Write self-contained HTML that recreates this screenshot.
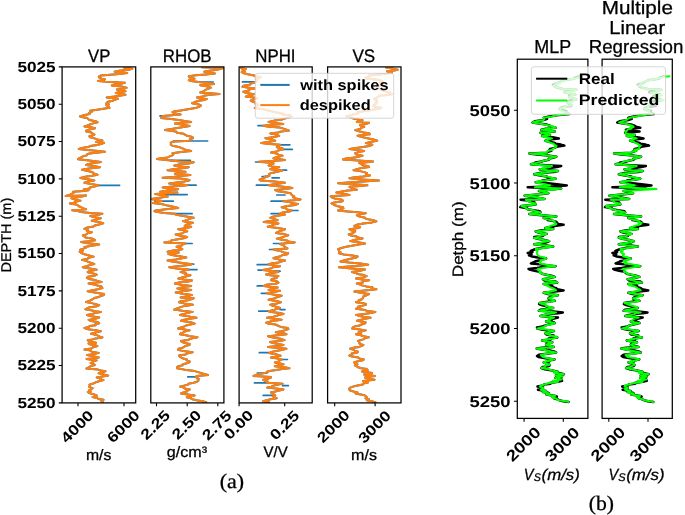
<!DOCTYPE html>
<html><head><meta charset="utf-8"><style>html,body{margin:0;padding:0;background:#fff;overflow:hidden}svg{display:block}</style></head>
<body><svg width="685" height="515" viewBox="0 0 685 515" style="text-rendering:geometricPrecision;will-change:transform">
<rect width="685" height="515" fill="#fff"/>
<clipPath id="c62"><rect x="62.1" y="66.9" width="73.6" height="336.0"/></clipPath>
<g clip-path="url(#c62)" fill="none" stroke-linejoin="round" stroke-linecap="round">
<path d="M123.8,67.4 L132.3,68.8 L128.6,69.8 L118.9,70.7 L114.7,71.7 L127.2,72.9 L116.5,74.2 L101.0,75.4 L98.8,76.6 L99.3,77.7 L102.0,78.6 L105.0,79.4 L103.5,80.2 L98.1,81.1 L110.8,81.9 L124.9,82.8 L120.6,83.7 L114.5,84.5 L111.8,85.4 L121.5,86.6 L126.6,87.7 L124.2,88.7 L116.9,89.6 L119.6,90.4 L125.5,91.3 L118.8,92.2 L115.8,93.0 L120.5,93.8 L125.5,94.7 L119.3,95.7 L114.3,96.6 L106.7,97.6 L118.1,98.7 L114.5,99.7 L112.9,100.7 L107.9,101.7 L106.7,102.7 L106.4,103.6 L109.0,104.4 L106.3,105.2 L107.8,106.1 L108.9,106.9 L109.5,107.8 L103.4,108.8 L97.2,109.7 L90.2,110.7 L91.8,111.8 L89.0,113.0 L89.6,114.1 L83.8,115.2 L79.9,116.4 L82.8,117.2 L87.3,118.1 L88.2,119.0 L89.4,120.0 L95.7,121.2 L97.5,122.4 L93.3,123.4 L90.0,124.5 L87.4,125.5 L84.5,126.5 L90.7,127.3 L95.1,128.2 L89.5,129.4 L86.1,130.6 L86.5,131.6 L91.4,132.6 L92.6,133.7 L94.3,134.7 L92.2,135.5 L89.4,136.3 L90.2,137.3 L94.6,138.4 L97.2,139.4 L102.4,140.4 L98.5,141.2 L95.9,142.0 L104.1,142.8 L101.5,143.9 L97.3,145.0 L90.2,146.1 L88.1,147.1 L81.9,148.0 L78.8,149.0 L87.8,149.9 L98.2,150.9 L104.9,151.8 L96.4,152.7 L89.4,153.5 L87.0,154.4 L86.7,155.4 L82.9,156.3 L81.7,157.3 L79.2,158.2 L78.0,159.2 L87.2,160.2 L93.3,161.1 L100.8,162.1 L93.9,163.0 L88.6,164.0 L86.1,164.9 L93.8,166.1 L100.0,167.3 L89.1,168.6 L82.0,169.8 L88.1,171.0 L92.6,172.2 L93.7,173.4 L97.5,174.7 L92.0,175.8 L85.3,176.8 L80.4,177.9 L88.1,179.2 L94.3,180.4 L87.6,181.6 L84.5,182.8 L90.9,184.1 L98.3,185.3 L95.4,186.3 L89.8,187.4 L89.8,188.4 L83.7,189.4 L88.6,190.2 L83.3,191.0 L73.1,191.8 L73.6,192.8 L71.6,193.9 L69.8,194.9 L65.7,195.9 L86.1,195.4 L81.6,196.4 L78.0,197.3 L71.4,198.3 L75.4,199.6 L80.4,200.8 L74.7,201.7 L75.5,202.5 L69.8,203.4 L76.0,204.4 L78.0,205.3 L78.8,206.3 L81.4,207.3 L82.7,208.3 L86.1,209.3 L72.2,210.2 L77.8,211.1 L81.2,212.1 L90.1,212.9 L102.4,213.7 L97.9,214.8 L90.2,215.9 L93.2,217.1 L100.8,218.3 L95.8,219.6 L91.8,220.8 L98.9,222.0 L103.2,223.2 L99.9,224.3 L94.9,225.4 L93.5,226.5 L86.6,227.7 L84.5,228.9 L87.8,230.0 L87.2,231.1 L91.8,232.2 L87.7,233.3 L86.3,234.4 L82.8,235.5 L84.3,236.5 L85.4,237.4 L91.7,238.4 L93.8,239.3 L95.1,240.3 L88.7,241.2 L81.2,242.0 L88.2,243.2 L99.2,244.4 L91.8,245.7 L84.5,246.9 L85.8,247.9 L82.6,248.9 L80.3,249.8 L82.8,250.8 L79.6,251.8 L81.3,253.0 L84.5,254.2 L89.1,255.4 L93.5,256.7 L88.0,257.8 L87.6,258.8 L82.0,259.9 L86.0,260.9 L88.3,261.9 L91.2,263.0 L94.3,264.0 L89.7,265.1 L86.4,266.2 L82.8,267.3 L89.8,268.5 L96.7,269.7 L89.8,270.9 L87.7,272.2 L93.3,273.4 L96.7,274.6 L94.7,275.7 L87.8,276.8 L86.9,277.9 L88.8,278.9 L95.3,279.9 L97.2,281.0 L101.6,282.0 L93.3,282.8 L88.6,283.6 L94.0,284.6 L97.5,285.5 L101.5,286.4 L100.0,287.2 L102.4,288.1 L98.0,289.2 L92.8,290.2 L87.7,291.3 L93.4,292.2 L99.1,293.2 L104.1,294.1 L103.7,295.1 L101.0,296.0 L98.7,296.9 L94.3,297.9 L93.2,298.9 L91.5,299.9 L89.4,301.0 L86.1,302.0 L91.7,303.1 L95.8,304.1 L99.2,305.2 L97.0,306.2 L90.0,307.2 L87.1,308.3 L85.3,309.3 L91.2,310.2 L95.2,311.2 L100.8,312.1 L94.8,313.1 L92.3,314.0 L86.9,315.0 L91.6,316.2 L99.2,317.5 L95.2,318.7 L88.6,319.9 L91.2,321.0 L97.7,322.1 L99.2,323.2 L95.3,324.2 L95.6,325.2 L89.5,326.1 L88.9,327.1 L84.5,328.1 L88.1,329.2 L95.4,330.2 L100.8,331.3 L95.2,332.6 L91.0,333.8 L95.7,334.7 L97.8,335.6 L99.9,336.6 L102.4,337.5 L95.6,338.4 L92.7,339.4 L87.7,340.3 L90.5,341.5 L96.0,342.7 L88.5,343.4 L89.5,344.3 L95.4,345.2 L97.4,346.1 L93.3,347.2 L91.3,348.4 L84.5,349.5 L90.9,350.6 L91.7,351.8 L98.7,352.9 L95.2,353.9 L87.2,355.0 L93.1,356.2 L98.7,357.4 L95.1,358.2 L86.5,359.0 L96.7,360.4 L93.7,361.3 L92.5,362.2 L90.6,363.1 L93.6,364.1 L94.7,365.1 L90.7,366.2 L88.8,367.4 L86.5,368.5 L98.0,369.6 L100.9,370.5 L105.5,371.3 L101.3,372.3 L98.7,373.3 L103.7,374.5 L108.2,375.6 L102.5,376.5 L96.7,377.4 L100.9,378.3 L100.0,379.2 L103.5,380.1 L98.8,381.2 L95.6,382.4 L93.3,383.5 L89.5,384.6 L89.7,385.8 L89.2,386.9 L92.6,388.2 L91.2,389.2 L89.2,390.1 L90.6,391.1 L87.8,392.0 L89.2,393.0 L93.2,394.1 L96.4,395.3 L96.7,396.4 L92.6,397.1 L96.8,398.0 L98.4,398.9 L103.5,399.8 L101.4,401.0 L102.8,402.2" stroke="#1f77b4" stroke-width="2.0"/>
<path d="M98.3,185.3 L119.6,185.3 " stroke="#1f77b4" stroke-width="1.7"/>
<path d="M123.8,67.4 L132.3,68.8 L128.6,69.8 L118.9,70.7 L114.7,71.7 L127.2,72.9 L116.5,74.2 L101.0,75.4 L98.8,76.6 L99.3,77.7 L102.0,78.6 L105.0,79.4 L103.5,80.2 L98.1,81.1 L110.8,81.9 L124.9,82.8 L120.6,83.7 L114.5,84.5 L111.8,85.4 L121.5,86.6 L126.6,87.7 L124.2,88.7 L116.9,89.6 L119.6,90.4 L125.5,91.3 L118.8,92.2 L115.8,93.0 L120.5,93.8 L125.5,94.7 L119.3,95.7 L114.3,96.6 L106.7,97.6 L118.1,98.7 L114.5,99.7 L112.9,100.7 L107.9,101.7 L106.7,102.7 L106.4,103.6 L109.0,104.4 L106.3,105.2 L107.8,106.1 L108.9,106.9 L109.5,107.8 L103.4,108.8 L97.2,109.7 L90.2,110.7 L91.8,111.8 L89.0,113.0 L89.6,114.1 L83.8,115.2 L79.9,116.4 L82.8,117.2 L87.3,118.1 L88.2,119.0 L89.4,120.0 L95.7,121.2 L97.5,122.4 L93.3,123.4 L90.0,124.5 L87.4,125.5 L84.5,126.5 L90.7,127.3 L95.1,128.2 L89.5,129.4 L86.1,130.6 L86.5,131.6 L91.4,132.6 L92.6,133.7 L94.3,134.7 L92.2,135.5 L89.4,136.3 L90.2,137.3 L94.6,138.4 L97.2,139.4 L102.4,140.4 L98.5,141.2 L95.9,142.0 L104.1,142.8 L101.5,143.9 L97.3,145.0 L90.2,146.1 L88.1,147.1 L81.9,148.0 L78.8,149.0 L87.8,149.9 L98.2,150.9 L104.9,151.8 L96.4,152.7 L89.4,153.5 L87.0,154.4 L86.7,155.4 L82.9,156.3 L81.7,157.3 L79.2,158.2 L78.0,159.2 L87.2,160.2 L93.3,161.1 L100.8,162.1 L93.9,163.0 L88.6,164.0 L86.1,164.9 L93.8,166.1 L100.0,167.3 L89.1,168.6 L82.0,169.8 L88.1,171.0 L92.6,172.2 L93.7,173.4 L97.5,174.7 L92.0,175.8 L85.3,176.8 L80.4,177.9 L88.1,179.2 L94.3,180.4 L87.6,181.6 L84.5,182.8 L90.9,184.1 L98.3,185.3 L95.4,186.3 L89.8,187.4 L89.8,188.4 L83.7,189.4 L88.6,190.2 L83.3,191.0 L73.1,191.8 L73.6,192.8 L71.6,193.9 L69.8,194.9 L65.7,195.9 L86.1,195.4 L81.6,196.4 L78.0,197.3 L71.4,198.3 L75.4,199.6 L80.4,200.8 L74.7,201.7 L75.5,202.5 L69.8,203.4 L76.0,204.4 L78.0,205.3 L78.8,206.3 L81.4,207.3 L82.7,208.3 L86.1,209.3 L72.2,210.2 L77.8,211.1 L81.2,212.1 L90.1,212.9 L102.4,213.7 L97.9,214.8 L90.2,215.9 L93.2,217.1 L100.8,218.3 L95.8,219.6 L91.8,220.8 L98.9,222.0 L103.2,223.2 L99.9,224.3 L94.9,225.4 L93.5,226.5 L86.6,227.7 L84.5,228.9 L87.8,230.0 L87.2,231.1 L91.8,232.2 L87.7,233.3 L86.3,234.4 L82.8,235.5 L84.3,236.5 L85.4,237.4 L91.7,238.4 L93.8,239.3 L95.1,240.3 L88.7,241.2 L81.2,242.0 L88.2,243.2 L99.2,244.4 L91.8,245.7 L84.5,246.9 L85.8,247.9 L82.6,248.9 L80.3,249.8 L82.8,250.8 L79.6,251.8 L81.3,253.0 L84.5,254.2 L89.1,255.4 L93.5,256.7 L88.0,257.8 L87.6,258.8 L82.0,259.9 L86.0,260.9 L88.3,261.9 L91.2,263.0 L94.3,264.0 L89.7,265.1 L86.4,266.2 L82.8,267.3 L89.8,268.5 L96.7,269.7 L89.8,270.9 L87.7,272.2 L93.3,273.4 L96.7,274.6 L94.7,275.7 L87.8,276.8 L86.9,277.9 L88.8,278.9 L95.3,279.9 L97.2,281.0 L101.6,282.0 L93.3,282.8 L88.6,283.6 L94.0,284.6 L97.5,285.5 L101.5,286.4 L100.0,287.2 L102.4,288.1 L98.0,289.2 L92.8,290.2 L87.7,291.3 L93.4,292.2 L99.1,293.2 L104.1,294.1 L103.7,295.1 L101.0,296.0 L98.7,296.9 L94.3,297.9 L93.2,298.9 L91.5,299.9 L89.4,301.0 L86.1,302.0 L91.7,303.1 L95.8,304.1 L99.2,305.2 L97.0,306.2 L90.0,307.2 L87.1,308.3 L85.3,309.3 L91.2,310.2 L95.2,311.2 L100.8,312.1 L94.8,313.1 L92.3,314.0 L86.9,315.0 L91.6,316.2 L99.2,317.5 L95.2,318.7 L88.6,319.9 L91.2,321.0 L97.7,322.1 L99.2,323.2 L95.3,324.2 L95.6,325.2 L89.5,326.1 L88.9,327.1 L84.5,328.1 L88.1,329.2 L95.4,330.2 L100.8,331.3 L95.2,332.6 L91.0,333.8 L95.7,334.7 L97.8,335.6 L99.9,336.6 L102.4,337.5 L95.6,338.4 L92.7,339.4 L87.7,340.3 L90.5,341.5 L96.0,342.7 L88.5,343.4 L89.5,344.3 L95.4,345.2 L97.4,346.1 L93.3,347.2 L91.3,348.4 L84.5,349.5 L90.9,350.6 L91.7,351.8 L98.7,352.9 L95.2,353.9 L87.2,355.0 L93.1,356.2 L98.7,357.4 L95.1,358.2 L86.5,359.0 L96.7,360.4 L93.7,361.3 L92.5,362.2 L90.6,363.1 L93.6,364.1 L94.7,365.1 L90.7,366.2 L88.8,367.4 L86.5,368.5 L98.0,369.6 L100.9,370.5 L105.5,371.3 L101.3,372.3 L98.7,373.3 L103.7,374.5 L108.2,375.6 L102.5,376.5 L96.7,377.4 L100.9,378.3 L100.0,379.2 L103.5,380.1 L98.8,381.2 L95.6,382.4 L93.3,383.5 L89.5,384.6 L89.7,385.8 L89.2,386.9 L92.6,388.2 L91.2,389.2 L89.2,390.1 L90.6,391.1 L87.8,392.0 L89.2,393.0 L93.2,394.1 L96.4,395.3 L96.7,396.4 L92.6,397.1 L96.8,398.0 L98.4,398.9 L103.5,399.8 L101.4,401.0 L102.8,402.2" stroke="#ff7f0e" stroke-width="2.0"/>
</g>
<clipPath id="c150"><rect x="150.8" y="66.9" width="73.1" height="336.0"/></clipPath>
<g clip-path="url(#c150)" fill="none" stroke-linejoin="round" stroke-linecap="round">
<path d="M201.9,67.3 L223.1,68.1 L220.0,69.0 L215.7,69.9 L207.4,70.9 L204.3,71.8 L208.6,72.7 L214.9,73.5 L206.1,74.4 L195.8,75.3 L188.8,76.2 L189.6,77.5 L194.5,78.7 L192.9,79.5 L188.8,80.3 L192.9,81.2 L198.6,82.0 L207.6,83.0 L214.1,83.9 L200.2,85.2 L207.7,86.5 L210.8,87.7 L207.7,88.9 L205.1,90.1 L203.9,91.3 L200.2,92.5 L219.5,93.9 L210.0,94.7 L205.0,95.5 L202.6,96.5 L197.0,97.5 L200.0,98.3 L206.7,99.1 L204.3,99.9 L198.6,100.7 L195.3,102.0 L192.1,103.2 L198.8,104.4 L201.0,105.6 L199.0,106.8 L195.3,108.1 L187.9,109.3 L180.6,110.5 L174.7,111.3 L172.5,112.1 L174.3,113.3 L180.6,114.6 L162.7,115.9 L163.4,116.9 L161.1,117.9 L171.2,119.1 L180.6,120.3 L184.4,121.1 L191.2,121.9 L181.9,122.8 L174.9,123.6 L182.9,124.8 L189.6,126.0 L183.4,127.0 L177.5,128.1 L171.5,129.1 L165.1,130.1 L172.6,130.9 L176.6,131.7 L176.9,132.7 L183.7,133.8 L185.3,134.8 L187.2,135.8 L192.4,137.0 L192.9,138.2 L189.8,139.4 L190.0,140.7 L174.1,141.5 L170.7,142.6 L170.9,143.7 L170.8,144.8 L172.6,145.7 L177.6,146.7 L180.6,147.6 L183.1,148.7 L185.3,149.8 L191.2,150.9 L180.7,152.1 L172.5,153.3 L173.5,154.3 L172.3,155.4 L169.7,156.4 L167.6,157.4 L161.3,158.2 L157.0,159.1 L170.8,160.4 L180.4,161.4 L193.7,162.3 L188.8,163.4 L178.8,164.5 L174.1,165.6 L180.3,166.4 L188.8,167.2 L182.1,168.2 L173.0,169.2 L167.6,170.2 L176.3,171.0 L185.5,171.8 L178.0,172.8 L174.9,173.7 L190.4,175.0 L180.4,175.9 L173.3,176.9 L162.7,177.8 L180.6,178.6 L186.9,179.4 L189.6,180.3 L184.4,181.4 L176.8,182.4 L169.2,183.5 L180.6,184.3 L187.2,185.2 L172.9,186.4 L162.7,187.6 L168.8,188.4 L178.2,189.2 L168.1,190.4 L160.2,191.7 L177.4,192.5 L168.0,193.3 L155.3,194.1 L163.1,195.3 L167.6,196.6 L159.8,197.8 L151.3,199.0 L156.0,200.0 L162.0,201.0 L156.8,202.1 L152.9,203.1 L162.4,204.3 L167.6,205.6 L173.4,206.8 L178.2,208.0 L165.7,209.2 L156.2,210.5 L154.6,211.3 L157.8,212.1 L164.3,212.9 L175.0,213.7 L175.5,214.6 L180.6,215.4 L186.6,216.6 L193.7,217.8 L189.1,218.9 L187.5,220.0 L183.1,221.1 L185.6,221.9 L192.9,222.7 L189.4,223.8 L185.8,224.9 L184.7,226.0 L191.2,226.8 L186.8,228.0 L178.2,229.2 L184.1,230.2 L187.2,231.3 L183.7,232.4 L182.0,233.4 L175.7,234.5 L180.4,235.8 L187.2,237.0 L183.6,238.2 L176.6,239.4 L171.2,240.4 L170.7,241.4 L164.3,242.4 L185.5,243.5 L182.4,244.6 L181.6,245.7 L176.6,246.8 L180.0,248.0 L182.3,249.2 L173.2,250.4 L167.6,251.7 L179.0,252.5 L175.2,253.3 L168.4,254.1 L173.2,255.2 L179.9,256.3 L186.3,257.4 L180.8,258.5 L175.9,259.5 L167.6,260.6 L172.2,261.5 L179.1,262.4 L184.3,263.3 L192.1,264.2 L186.8,265.2 L177.7,266.2 L169.2,267.2 L176.6,268.4 L188.8,269.6 L183.6,270.9 L180.6,272.1 L185.8,273.2 L184.8,274.2 L190.4,275.3 L186.6,276.4 L182.1,277.5 L178.2,278.6 L183.8,279.6 L192.1,280.5 L188.2,281.5 L178.9,282.5 L174.9,283.5 L181.1,284.7 L191.2,285.9 L182.7,287.1 L177.4,288.4 L185.0,289.2 L191.2,290.0 L182.3,291.2 L175.7,292.5 L182.9,293.7 L192.1,294.9 L188.3,296.1 L180.6,297.4 L193.7,298.2 L191.0,299.2 L188.0,300.2 L181.0,301.2 L179.0,302.2 L184.0,303.4 L192.9,304.7 L184.6,305.9 L180.6,307.1 L177.1,308.4 L174.1,309.6 L182.5,310.8 L192.6,311.9 L188.3,312.9 L184.0,313.9 L180.0,314.9 L186.5,315.9 L190.4,316.8 L196.5,317.8 L190.1,318.8 L184.1,319.7 L181.0,320.7 L187.2,321.7 L192.0,322.6 L194.6,323.6 L190.4,324.6 L186.0,325.5 L184.3,326.5 L181.0,327.4 L178.1,328.4 L184.6,329.4 L189.7,330.4 L185.4,331.4 L183.4,332.4 L181.0,333.3 L180.0,334.3 L186.1,335.3 L190.2,336.2 L197.5,337.2 L193.1,338.1 L189.9,339.1 L187.6,340.1 L181.0,341.0 L182.1,342.0 L185.1,343.0 L189.7,344.0 L189.5,345.0 L185.6,345.9 L184.1,346.9 L182.2,347.9 L178.5,348.8 L178.1,349.8 L183.4,351.1 L192.6,352.3 L186.9,353.4 L185.7,354.5 L179.0,355.6 L179.8,356.6 L181.4,357.6 L183.3,358.5 L186.8,359.5 L186.6,360.4 L189.7,361.4 L189.5,362.4 L186.8,363.3 L182.9,364.3 L182.5,365.3 L178.6,366.2 L177.1,367.2 L177.1,368.2 L182.5,369.2 L186.4,370.1 L194.6,371.1 L198.2,372.1 L201.6,373.1 L203.8,374.0 L208.1,375.0 L196.5,376.0 L195.8,377.0 L197.0,377.9 L198.7,378.9 L197.7,379.8 L198.4,380.8 L197.0,381.8 L193.6,382.7 L188.4,383.7 L187.9,384.7 L184.0,385.6 L180.0,386.6 L183.9,387.6 L184.9,388.5 L189.7,389.5 L186.6,390.5 L187.4,391.4 L183.5,392.4 L181.0,393.4 L187.6,394.4 L194.6,395.4 L189.9,396.4 L186.8,397.3 L190.9,398.3 L192.4,399.2 L196.5,400.2 L202.7,401.2 L206.2,402.2" stroke="#1f77b4" stroke-width="2.0"/>
<path d="M198.6,82.0 L213.3,82.0 M160.0,115.9 L163.0,115.9 M173.3,141.0 L207.6,141.0 M170.8,160.4 L190.4,160.4 M187.0,185.2 L196.1,185.2 M160.0,194.6 L187.2,194.6 M155.0,201.2 L173.3,201.2 M154.5,210.5 L157.0,210.5 M175.0,213.7 L192.1,213.7 M185.5,243.5 L192.1,243.5 M192.1,264.2 L193.7,264.2 M188.8,269.6 L197.0,269.6 M187.8,376.9 L196.0,376.9 " stroke="#1f77b4" stroke-width="1.7"/>
<path d="M201.9,67.3 L223.1,68.1 L220.0,69.0 L215.7,69.9 L207.4,70.9 L204.3,71.8 L208.6,72.7 L214.9,73.5 L206.1,74.4 L195.8,75.3 L188.8,76.2 L189.6,77.5 L194.5,78.7 L192.9,79.5 L188.8,80.3 L192.9,81.2 L198.6,82.0 L207.6,83.0 L214.1,83.9 L200.2,85.2 L207.7,86.5 L210.8,87.7 L207.7,88.9 L205.1,90.1 L203.9,91.3 L200.2,92.5 L219.5,93.9 L210.0,94.7 L205.0,95.5 L202.6,96.5 L197.0,97.5 L200.0,98.3 L206.7,99.1 L204.3,99.9 L198.6,100.7 L195.3,102.0 L192.1,103.2 L198.8,104.4 L201.0,105.6 L199.0,106.8 L195.3,108.1 L187.9,109.3 L180.6,110.5 L174.7,111.3 L172.5,112.1 L174.3,113.3 L180.6,114.6 L162.7,115.9 L163.4,116.9 L161.1,117.9 L171.2,119.1 L180.6,120.3 L184.4,121.1 L191.2,121.9 L181.9,122.8 L174.9,123.6 L182.9,124.8 L189.6,126.0 L183.4,127.0 L177.5,128.1 L171.5,129.1 L165.1,130.1 L172.6,130.9 L176.6,131.7 L176.9,132.7 L183.7,133.8 L185.3,134.8 L187.2,135.8 L192.4,137.0 L192.9,138.2 L189.8,139.4 L190.0,140.7 L174.1,141.5 L170.7,142.6 L170.9,143.7 L170.8,144.8 L172.6,145.7 L177.6,146.7 L180.6,147.6 L183.1,148.7 L185.3,149.8 L191.2,150.9 L180.7,152.1 L172.5,153.3 L173.5,154.3 L172.3,155.4 L169.7,156.4 L167.6,157.4 L161.3,158.2 L157.0,159.1 L170.8,160.4 L180.4,161.4 L193.7,162.3 L188.8,163.4 L178.8,164.5 L174.1,165.6 L180.3,166.4 L188.8,167.2 L182.1,168.2 L173.0,169.2 L167.6,170.2 L176.3,171.0 L185.5,171.8 L178.0,172.8 L174.9,173.7 L190.4,175.0 L180.4,175.9 L173.3,176.9 L162.7,177.8 L180.6,178.6 L186.9,179.4 L189.6,180.3 L184.4,181.4 L176.8,182.4 L169.2,183.5 L180.6,184.3 L187.2,185.2 L172.9,186.4 L162.7,187.6 L168.8,188.4 L178.2,189.2 L168.1,190.4 L160.2,191.7 L177.4,192.5 L168.0,193.3 L155.3,194.1 L163.1,195.3 L167.6,196.6 L159.8,197.8 L151.3,199.0 L156.0,200.0 L162.0,201.0 L156.8,202.1 L152.9,203.1 L162.4,204.3 L167.6,205.6 L173.4,206.8 L178.2,208.0 L165.7,209.2 L156.2,210.5 L154.6,211.3 L157.8,212.1 L164.3,212.9 L175.0,213.7 L175.5,214.6 L180.6,215.4 L186.6,216.6 L193.7,217.8 L189.1,218.9 L187.5,220.0 L183.1,221.1 L185.6,221.9 L192.9,222.7 L189.4,223.8 L185.8,224.9 L184.7,226.0 L191.2,226.8 L186.8,228.0 L178.2,229.2 L184.1,230.2 L187.2,231.3 L183.7,232.4 L182.0,233.4 L175.7,234.5 L180.4,235.8 L187.2,237.0 L183.6,238.2 L176.6,239.4 L171.2,240.4 L170.7,241.4 L164.3,242.4 L185.5,243.5 L182.4,244.6 L181.6,245.7 L176.6,246.8 L180.0,248.0 L182.3,249.2 L173.2,250.4 L167.6,251.7 L179.0,252.5 L175.2,253.3 L168.4,254.1 L173.2,255.2 L179.9,256.3 L186.3,257.4 L180.8,258.5 L175.9,259.5 L167.6,260.6 L172.2,261.5 L179.1,262.4 L184.3,263.3 L192.1,264.2 L186.8,265.2 L177.7,266.2 L169.2,267.2 L176.6,268.4 L188.8,269.6 L183.6,270.9 L180.6,272.1 L185.8,273.2 L184.8,274.2 L190.4,275.3 L186.6,276.4 L182.1,277.5 L178.2,278.6 L183.8,279.6 L192.1,280.5 L188.2,281.5 L178.9,282.5 L174.9,283.5 L181.1,284.7 L191.2,285.9 L182.7,287.1 L177.4,288.4 L185.0,289.2 L191.2,290.0 L182.3,291.2 L175.7,292.5 L182.9,293.7 L192.1,294.9 L188.3,296.1 L180.6,297.4 L193.7,298.2 L191.0,299.2 L188.0,300.2 L181.0,301.2 L179.0,302.2 L184.0,303.4 L192.9,304.7 L184.6,305.9 L180.6,307.1 L177.1,308.4 L174.1,309.6 L182.5,310.8 L192.6,311.9 L188.3,312.9 L184.0,313.9 L180.0,314.9 L186.5,315.9 L190.4,316.8 L196.5,317.8 L190.1,318.8 L184.1,319.7 L181.0,320.7 L187.2,321.7 L192.0,322.6 L194.6,323.6 L190.4,324.6 L186.0,325.5 L184.3,326.5 L181.0,327.4 L178.1,328.4 L184.6,329.4 L189.7,330.4 L185.4,331.4 L183.4,332.4 L181.0,333.3 L180.0,334.3 L186.1,335.3 L190.2,336.2 L197.5,337.2 L193.1,338.1 L189.9,339.1 L187.6,340.1 L181.0,341.0 L182.1,342.0 L185.1,343.0 L189.7,344.0 L189.5,345.0 L185.6,345.9 L184.1,346.9 L182.2,347.9 L178.5,348.8 L178.1,349.8 L183.4,351.1 L192.6,352.3 L186.9,353.4 L185.7,354.5 L179.0,355.6 L179.8,356.6 L181.4,357.6 L183.3,358.5 L186.8,359.5 L186.6,360.4 L189.7,361.4 L189.5,362.4 L186.8,363.3 L182.9,364.3 L182.5,365.3 L178.6,366.2 L177.1,367.2 L177.1,368.2 L182.5,369.2 L186.4,370.1 L194.6,371.1 L198.2,372.1 L201.6,373.1 L203.8,374.0 L208.1,375.0 L196.5,376.0 L195.8,377.0 L197.0,377.9 L198.7,378.9 L197.7,379.8 L198.4,380.8 L197.0,381.8 L193.6,382.7 L188.4,383.7 L187.9,384.7 L184.0,385.6 L180.0,386.6 L183.9,387.6 L184.9,388.5 L189.7,389.5 L186.6,390.5 L187.4,391.4 L183.5,392.4 L181.0,393.4 L187.6,394.4 L194.6,395.4 L189.9,396.4 L186.8,397.3 L190.9,398.3 L192.4,399.2 L196.5,400.2 L202.7,401.2 L206.2,402.2" stroke="#ff7f0e" stroke-width="2.0"/>
</g>
<clipPath id="c239"><rect x="239.1" y="66.9" width="73.1" height="336.0"/></clipPath>
<g clip-path="url(#c239)" fill="none" stroke-linejoin="round" stroke-linecap="round">
<path d="M240.9,68.1 L245.8,68.9 L242.5,70.0 L244.7,71.1 L241.7,72.2 L244.0,73.3 L247.9,74.3 L254.0,75.4 L255.1,76.2 L260.5,77.1 L258.7,78.2 L255.9,79.2 L257.2,80.3 L256.8,81.5 L254.0,82.8 L249.9,83.8 L249.9,84.8 L243.6,85.8 L242.5,86.8 L249.0,87.7 L254.8,88.5 L248.6,89.6 L249.0,90.6 L243.3,91.7 L246.7,93.0 L254.0,94.2 L248.6,95.4 L245.8,96.6 L253.2,97.4 L257.2,98.3 L253.8,99.5 L250.7,100.7 L252.9,101.8 L256.4,102.9 L255.6,104.0 L257.7,105.0 L256.5,106.0 L256.3,107.1 L254.8,108.1 L263.0,109.3 L268.6,110.5 L273.4,111.8 L278.4,113.0 L284.1,113.9 L282.9,114.8 L290.5,115.6 L291.5,116.5 L288.5,117.5 L284.6,118.5 L281.7,119.5 L273.7,120.7 L268.6,121.9 L274.6,123.0 L283.3,124.0 L272.2,124.8 L262.9,125.7 L269.4,126.7 L280.1,127.6 L283.5,128.6 L286.5,129.6 L289.0,130.6 L281.3,131.5 L278.0,132.5 L270.3,133.4 L276.3,134.6 L279.2,135.8 L274.6,137.0 L265.4,138.2 L271.6,139.4 L275.2,140.7 L268.0,141.9 L261.3,143.1 L269.6,143.9 L280.1,144.8 L278.8,146.0 L276.8,147.2 L282.3,148.2 L283.3,149.3 L278.0,150.4 L276.9,151.4 L271.1,152.5 L276.6,153.6 L278.6,154.7 L282.5,155.8 L277.2,157.0 L273.5,158.2 L278.1,159.1 L285.0,159.9 L272.0,160.9 L258.8,161.8 L273.5,163.0 L273.2,163.9 L270.1,164.7 L268.6,165.6 L271.8,166.4 L279.2,167.2 L272.8,168.2 L270.3,169.2 L282.5,170.5 L277.2,171.7 L271.9,172.9 L269.2,173.9 L269.0,174.9 L269.4,175.8 L264.7,176.8 L264.6,177.8 L262.3,178.7 L259.6,179.7 L260.5,180.6 L274.6,181.6 L285.0,182.7 L275.4,183.9 L268.6,185.2 L280.9,186.5 L288.2,187.3 L292.3,188.1 L285.6,189.1 L275.2,190.1 L278.0,191.2 L284.9,192.2 L290.7,193.3 L291.0,194.3 L292.5,195.4 L294.2,196.4 L293.1,197.4 L295.9,198.4 L300.5,199.5 L294.2,200.3 L283.3,201.2 L290.6,202.1 L290.8,203.0 L298.0,203.9 L294.9,205.0 L287.5,206.1 L281.7,207.2 L286.0,208.3 L286.7,209.4 L291.5,210.5 L289.3,211.6 L282.4,212.6 L280.1,213.7 L285.0,214.5 L279.1,215.6 L272.8,216.7 L270.3,217.8 L274.1,219.0 L277.6,220.2 L270.0,221.1 L263.7,221.9 L273.2,222.7 L278.4,223.5 L273.6,224.6 L271.4,225.7 L267.8,226.8 L277.9,228.0 L285.0,229.2 L283.5,230.1 L279.5,231.1 L278.0,232.0 L276.0,232.9 L283.9,234.1 L288.2,235.3 L284.8,236.4 L281.6,237.5 L276.8,238.6 L280.8,239.6 L287.1,240.5 L288.3,241.4 L294.7,242.4 L285.6,243.2 L280.0,244.0 L283.1,245.1 L284.3,246.2 L285.6,247.3 L287.4,248.4 L273.5,249.5 L277.5,250.4 L281.3,251.4 L283.8,252.4 L288.2,253.3 L287.2,254.3 L282.0,255.3 L280.7,256.2 L276.2,257.2 L273.5,258.2 L278.5,259.4 L285.0,260.6 L281.1,261.5 L278.9,262.4 L272.6,263.3 L268.6,264.2 L273.1,265.2 L280.1,266.3 L273.3,267.2 L271.5,268.2 L267.2,269.2 L262.9,270.1 L271.4,271.1 L278.4,272.0 L270.3,273.2 L266.2,274.5 L270.2,275.2 L278.4,276.0 L275.7,277.1 L276.6,278.1 L271.8,279.1 L271.1,280.2 L277.2,281.4 L278.4,282.7 L275.4,283.8 L266.1,284.8 L263.7,285.9 L269.7,286.8 L277.6,287.6 L272.8,288.8 L268.6,290.0 L280.1,290.8 L273.8,292.1 L267.0,293.3 L273.3,294.5 L281.7,295.7 L278.5,296.7 L275.5,297.8 L273.1,298.8 L268.6,299.8 L276.1,301.0 L280.9,302.2 L277.3,303.4 L270.3,304.7 L272.7,305.8 L276.8,306.9 L280.0,308.0 L275.8,309.1 L273.9,310.1 L268.6,311.2 L271.2,312.1 L280.0,313.0 L283.5,313.9 L277.9,314.9 L277.2,315.9 L273.3,316.8 L267.0,317.8 L273.8,318.8 L281.6,319.7 L274.5,320.7 L270.1,321.6 L266.1,322.6 L268.1,323.6 L275.5,324.5 L277.7,325.5 L279.5,326.4 L282.5,327.2 L287.8,328.1 L288.4,329.0 L285.6,330.1 L281.3,331.2 L275.8,332.3 L283.6,333.3 L286.4,334.3 L277.8,335.2 L268.0,336.2 L271.9,337.2 L276.0,338.1 L281.8,339.1 L284.5,340.1 L279.5,341.1 L270.0,342.0 L273.3,343.0 L278.1,343.9 L283.5,344.9 L277.7,345.9 L268.0,346.9 L279.4,347.9 L286.4,348.8 L281.5,349.9 L275.8,351.0 L271.6,352.0 L269.0,353.1 L276.6,354.4 L280.6,355.6 L277.6,356.6 L270.9,357.5 L277.7,358.5 L281.6,359.5 L279.3,360.5 L279.2,361.4 L274.8,362.4 L280.1,363.4 L283.5,364.3 L279.2,365.3 L274.8,366.3 L284.6,367.2 L289.4,368.2 L282.2,369.1 L276.2,369.9 L271.1,370.8 L267.0,371.7 L266.0,372.8 L259.5,373.9 L256.3,374.9 L253.5,376.0 L270.9,376.9 L270.7,377.9 L267.7,378.8 L263.2,379.8 L265.0,380.8 L268.0,381.8 L267.0,382.8 L282.6,383.7 L276.9,384.7 L274.0,385.6 L271.3,386.6 L267.0,387.6 L276.1,388.6 L283.5,389.5 L279.2,390.5 L275.3,391.5 L270.9,392.5 L272.4,393.5 L273.7,394.4 L275.2,395.4 L273.2,396.4 L273.7,397.3 L276.7,398.3 L270.5,399.3 L266.7,400.2 L263.2,401.2 L269.0,402.2" stroke="#1f77b4" stroke-width="2.0"/>
<path d="M242.5,81.9 L254.0,81.9 M258.0,125.7 L262.9,125.7 M280.1,144.8 L289.9,144.8 M283.3,149.3 L292.3,149.3 M255.6,162.0 L258.8,162.0 M282.5,170.2 L286.6,170.2 M262.1,176.7 L268.0,176.7 M272.0,177.8 L279.2,177.8 M256.4,185.2 L268.6,185.2 M276.8,195.0 L285.0,195.0 M271.1,201.2 L283.3,201.2 M291.5,210.5 L298.0,210.5 M271.1,213.7 L280.1,213.7 M273.5,243.5 L282.0,243.5 M269.5,249.5 L273.5,249.5 M257.2,264.7 L268.6,264.7 M258.0,270.1 L262.9,270.1 M275.0,271.2 L280.1,271.2 M257.2,285.9 L263.7,285.9 M261.3,293.3 L267.0,293.3 M280.0,309.6 L285.0,309.6 M258.8,311.2 L268.6,311.2 M259.3,352.7 L269.0,352.7 M281.6,359.5 L287.4,359.5 M257.3,373.1 L267.0,373.1 M254.4,382.8 L267.0,382.8 M282.6,385.7 L288.4,385.7 M263.2,395.4 L272.0,395.4 " stroke="#1f77b4" stroke-width="1.7"/>
<path d="M240.9,68.1 L245.8,68.9 L242.5,70.0 L244.7,71.1 L241.7,72.2 L244.0,73.3 L247.9,74.3 L254.0,75.4 L255.1,76.2 L260.5,77.1 L258.7,78.2 L255.9,79.2 L257.2,80.3 L256.8,81.5 L254.0,82.8 L249.9,83.8 L249.9,84.8 L243.6,85.8 L242.5,86.8 L249.0,87.7 L254.8,88.5 L248.6,89.6 L249.0,90.6 L243.3,91.7 L246.7,93.0 L254.0,94.2 L248.6,95.4 L245.8,96.6 L253.2,97.4 L257.2,98.3 L253.8,99.5 L250.7,100.7 L252.9,101.8 L256.4,102.9 L255.6,104.0 L257.7,105.0 L256.5,106.0 L256.3,107.1 L254.8,108.1 L263.0,109.3 L268.6,110.5 L273.4,111.8 L278.4,113.0 L284.1,113.9 L282.9,114.8 L290.5,115.6 L291.5,116.5 L288.5,117.5 L284.6,118.5 L281.7,119.5 L273.7,120.7 L268.6,121.9 L274.6,123.0 L283.3,124.0 L272.2,124.8 L262.9,125.7 L269.4,126.7 L280.1,127.6 L283.5,128.6 L286.5,129.6 L289.0,130.6 L281.3,131.5 L278.0,132.5 L270.3,133.4 L276.3,134.6 L279.2,135.8 L274.6,137.0 L265.4,138.2 L271.6,139.4 L275.2,140.7 L268.0,141.9 L261.3,143.1 L269.6,143.9 L280.1,144.8 L278.8,146.0 L276.8,147.2 L282.3,148.2 L283.3,149.3 L278.0,150.4 L276.9,151.4 L271.1,152.5 L276.6,153.6 L278.6,154.7 L282.5,155.8 L277.2,157.0 L273.5,158.2 L278.1,159.1 L285.0,159.9 L272.0,160.9 L258.8,161.8 L273.5,163.0 L273.2,163.9 L270.1,164.7 L268.6,165.6 L271.8,166.4 L279.2,167.2 L272.8,168.2 L270.3,169.2 L282.5,170.5 L277.2,171.7 L271.9,172.9 L269.2,173.9 L269.0,174.9 L269.4,175.8 L264.7,176.8 L264.6,177.8 L262.3,178.7 L259.6,179.7 L260.5,180.6 L274.6,181.6 L285.0,182.7 L275.4,183.9 L268.6,185.2 L280.9,186.5 L288.2,187.3 L292.3,188.1 L285.6,189.1 L275.2,190.1 L278.0,191.2 L284.9,192.2 L290.7,193.3 L291.0,194.3 L292.5,195.4 L294.2,196.4 L293.1,197.4 L295.9,198.4 L300.5,199.5 L294.2,200.3 L283.3,201.2 L290.6,202.1 L290.8,203.0 L298.0,203.9 L294.9,205.0 L287.5,206.1 L281.7,207.2 L286.0,208.3 L286.7,209.4 L291.5,210.5 L289.3,211.6 L282.4,212.6 L280.1,213.7 L285.0,214.5 L279.1,215.6 L272.8,216.7 L270.3,217.8 L274.1,219.0 L277.6,220.2 L270.0,221.1 L263.7,221.9 L273.2,222.7 L278.4,223.5 L273.6,224.6 L271.4,225.7 L267.8,226.8 L277.9,228.0 L285.0,229.2 L283.5,230.1 L279.5,231.1 L278.0,232.0 L276.0,232.9 L283.9,234.1 L288.2,235.3 L284.8,236.4 L281.6,237.5 L276.8,238.6 L280.8,239.6 L287.1,240.5 L288.3,241.4 L294.7,242.4 L285.6,243.2 L280.0,244.0 L283.1,245.1 L284.3,246.2 L285.6,247.3 L287.4,248.4 L273.5,249.5 L277.5,250.4 L281.3,251.4 L283.8,252.4 L288.2,253.3 L287.2,254.3 L282.0,255.3 L280.7,256.2 L276.2,257.2 L273.5,258.2 L278.5,259.4 L285.0,260.6 L281.1,261.5 L278.9,262.4 L272.6,263.3 L268.6,264.2 L273.1,265.2 L280.1,266.3 L273.3,267.2 L271.5,268.2 L267.2,269.2 L262.9,270.1 L271.4,271.1 L278.4,272.0 L270.3,273.2 L266.2,274.5 L270.2,275.2 L278.4,276.0 L275.7,277.1 L276.6,278.1 L271.8,279.1 L271.1,280.2 L277.2,281.4 L278.4,282.7 L275.4,283.8 L266.1,284.8 L263.7,285.9 L269.7,286.8 L277.6,287.6 L272.8,288.8 L268.6,290.0 L280.1,290.8 L273.8,292.1 L267.0,293.3 L273.3,294.5 L281.7,295.7 L278.5,296.7 L275.5,297.8 L273.1,298.8 L268.6,299.8 L276.1,301.0 L280.9,302.2 L277.3,303.4 L270.3,304.7 L272.7,305.8 L276.8,306.9 L280.0,308.0 L275.8,309.1 L273.9,310.1 L268.6,311.2 L271.2,312.1 L280.0,313.0 L283.5,313.9 L277.9,314.9 L277.2,315.9 L273.3,316.8 L267.0,317.8 L273.8,318.8 L281.6,319.7 L274.5,320.7 L270.1,321.6 L266.1,322.6 L268.1,323.6 L275.5,324.5 L277.7,325.5 L279.5,326.4 L282.5,327.2 L287.8,328.1 L288.4,329.0 L285.6,330.1 L281.3,331.2 L275.8,332.3 L283.6,333.3 L286.4,334.3 L277.8,335.2 L268.0,336.2 L271.9,337.2 L276.0,338.1 L281.8,339.1 L284.5,340.1 L279.5,341.1 L270.0,342.0 L273.3,343.0 L278.1,343.9 L283.5,344.9 L277.7,345.9 L268.0,346.9 L279.4,347.9 L286.4,348.8 L281.5,349.9 L275.8,351.0 L271.6,352.0 L269.0,353.1 L276.6,354.4 L280.6,355.6 L277.6,356.6 L270.9,357.5 L277.7,358.5 L281.6,359.5 L279.3,360.5 L279.2,361.4 L274.8,362.4 L280.1,363.4 L283.5,364.3 L279.2,365.3 L274.8,366.3 L284.6,367.2 L289.4,368.2 L282.2,369.1 L276.2,369.9 L271.1,370.8 L267.0,371.7 L266.0,372.8 L259.5,373.9 L256.3,374.9 L253.5,376.0 L270.9,376.9 L270.7,377.9 L267.7,378.8 L263.2,379.8 L265.0,380.8 L268.0,381.8 L267.0,382.8 L282.6,383.7 L276.9,384.7 L274.0,385.6 L271.3,386.6 L267.0,387.6 L276.1,388.6 L283.5,389.5 L279.2,390.5 L275.3,391.5 L270.9,392.5 L272.4,393.5 L273.7,394.4 L275.2,395.4 L273.2,396.4 L273.7,397.3 L276.7,398.3 L270.5,399.3 L266.7,400.2 L263.2,401.2 L269.0,402.2" stroke="#ff7f0e" stroke-width="2.0"/>
</g>
<clipPath id="c327"><rect x="327.6" y="66.9" width="73.39999999999998" height="336.0"/></clipPath>
<g clip-path="url(#c327)" fill="none" stroke-linejoin="round" stroke-linecap="round">
<path d="M386.2,67.6 L393.7,68.7 L397.6,69.7 L394.0,70.5 L387.0,71.3 L389.2,72.2 L391.9,73.0 L381.7,74.2 L369.1,75.4 L369.5,76.5 L365.7,77.6 L366.6,78.7 L375.0,79.5 L380.5,80.3 L382.5,81.4 L380.2,82.5 L382.9,83.6 L380.5,84.6 L379.9,85.6 L378.3,86.5 L377.3,87.5 L378.9,88.5 L380.0,89.5 L383.2,90.5 L386.3,91.6 L390.3,92.6 L388.7,93.4 L391.9,94.2 L387.4,95.0 L378.9,95.8 L378.0,96.9 L376.1,98.0 L374.0,99.1 L376.5,100.2 L376.6,101.2 L377.2,102.3 L375.3,103.4 L375.5,104.5 L373.1,105.6 L375.0,106.8 L381.3,108.1 L375.1,109.2 L370.4,110.2 L363.3,111.3 L357.7,112.3 L358.3,113.3 L354.5,114.2 L350.9,115.2 L346.2,116.2 L350.9,117.5 L354.4,118.7 L358.2,119.5 L362.5,120.3 L361.5,121.1 L356.8,121.9 L369.1,122.7 L365.7,124.0 L360.1,125.2 L362.4,126.0 L364.2,126.8 L361.3,127.9 L360.0,129.0 L355.2,130.1 L358.8,131.3 L364.2,132.5 L369.0,133.3 L369.9,134.2 L361.9,135.0 L357.6,135.8 L361.9,137.0 L367.4,138.2 L373.5,139.4 L377.2,140.7 L370.1,141.9 L365.8,143.1 L370.6,143.9 L372.3,144.8 L369.1,146.0 L363.0,147.0 L356.1,147.9 L349.5,148.9 L357.5,149.9 L364.2,150.9 L358.2,152.1 L355.2,153.3 L356.4,154.6 L362.5,155.8 L358.2,156.7 L355.0,157.6 L345.9,158.5 L343.0,159.4 L358.1,160.4 L373.1,161.5 L366.8,162.3 L359.3,163.1 L361.7,164.1 L361.9,165.0 L367.3,165.9 L369.1,166.9 L361.5,168.0 L356.9,169.1 L353.6,170.2 L360.1,171.1 L364.2,172.1 L367.1,173.2 L366.0,174.3 L369.9,175.4 L363.2,176.4 L354.8,177.3 L349.5,178.3 L361.8,179.4 L378.9,180.6 L363.2,181.5 L351.2,182.3 L338.1,183.2 L354.6,184.2 L367.4,185.2 L360.0,186.0 L349.5,186.8 L351.4,187.8 L352.6,188.7 L356.8,189.7 L347.8,190.6 L342.1,191.6 L336.4,192.5 L343.6,193.8 L349.5,195.0 L330.7,196.3 L331.7,197.4 L334.7,198.5 L341.2,199.6 L343.0,200.7 L341.5,201.6 L334.1,202.5 L331.5,203.4 L333.3,204.3 L335.0,205.3 L337.8,206.2 L343.0,207.2 L343.4,208.3 L340.5,209.4 L338.1,210.5 L347.6,211.4 L357.6,212.3 L365.8,213.2 L359.8,214.3 L356.8,215.4 L359.5,216.6 L365.0,217.8 L365.9,218.7 L369.7,219.6 L374.1,220.5 L376.4,221.4 L372.3,222.4 L363.3,223.5 L356.7,224.8 L354.4,226.0 L360.1,227.3 L356.7,228.2 L349.5,229.2 L350.9,230.2 L355.2,231.3 L354.0,232.4 L352.0,233.4 L348.7,234.5 L351.1,235.5 L356.8,236.6 L357.8,237.6 L362.5,238.6 L355.2,239.8 L350.3,241.1 L358.1,242.3 L365.0,243.5 L358.6,244.6 L352.0,245.7 L346.2,246.8 L341.3,248.0 L338.1,249.2 L338.8,250.2 L339.0,251.2 L340.6,252.3 L338.9,253.3 L343.8,254.4 L352.6,255.5 L357.6,256.6 L355.6,257.8 L349.5,259.0 L344.7,260.2 L340.5,261.5 L349.1,262.6 L360.5,263.6 L368.2,264.7 L355.9,265.9 L338.9,267.2 L351.5,268.4 L365.0,269.6 L359.1,270.9 L351.9,272.1 L356.4,273.1 L357.3,274.1 L363.8,275.1 L366.6,276.1 L363.2,277.4 L356.0,278.6 L361.9,279.4 L369.1,280.2 L362.9,281.3 L362.9,282.4 L356.8,283.5 L359.5,284.4 L361.9,285.4 L366.1,286.4 L372.3,287.3 L371.3,288.2 L376.4,289.2 L364.8,290.4 L354.4,291.6 L361.7,292.9 L369.1,294.1 L366.6,295.2 L363.5,296.3 L363.3,297.4 L362.7,298.4 L361.9,299.3 L358.8,300.3 L359.1,301.2 L356.0,302.2 L362.0,303.0 L365.8,303.9 L365.9,304.9 L361.7,305.9 L357.9,306.8 L360.2,307.8 L356.0,308.8 L363.7,309.8 L367.3,310.9 L375.4,311.9 L370.4,312.9 L364.3,313.9 L356.0,314.9 L359.2,315.9 L363.9,316.8 L370.6,317.8 L365.0,318.8 L361.4,319.7 L357.0,320.7 L361.0,321.6 L365.7,322.6 L364.7,323.6 L361.4,324.5 L359.4,325.5 L354.5,326.5 L353.0,327.4 L352.2,328.4 L359.7,329.4 L365.7,330.4 L361.9,331.4 L358.5,332.4 L360.9,333.3 L356.0,334.3 L360.8,335.3 L363.6,336.2 L368.7,337.2 L365.1,338.1 L364.2,339.1 L360.3,340.1 L358.0,341.0 L359.4,342.0 L359.4,343.0 L359.6,343.9 L363.4,344.9 L361.9,345.9 L359.1,346.9 L353.4,347.8 L350.2,348.8 L353.8,349.8 L354.6,350.7 L358.0,351.7 L356.8,352.7 L351.7,353.6 L351.6,354.6 L349.3,355.6 L352.1,356.6 L358.5,357.6 L359.4,358.5 L363.8,359.5 L361.7,360.5 L357.1,361.4 L354.1,362.4 L355.4,363.4 L357.4,364.3 L354.9,365.3 L356.4,366.2 L358.0,367.2 L361.2,368.2 L366.8,369.1 L367.7,370.1 L362.0,371.5 L367.4,372.2 L372.0,373.0 L369.5,373.8 L364.0,374.5 L368.7,375.2 L375.0,376.0 L368.2,376.8 L365.0,377.5 L368.6,378.6 L374.5,379.8 L363.0,381.0 L365.6,381.8 L368.0,382.5 L363.3,383.5 L362.6,384.6 L357.7,385.6 L353.1,386.6 L350.2,387.6 L349.2,388.6 L349.3,389.5 L350.2,390.5 L353.6,391.5 L357.5,392.4 L355.5,393.4 L360.7,394.4 L364.5,395.3 L365.7,396.3 L366.8,397.3 L365.5,398.2 L368.9,399.2 L366.7,400.2 L371.5,401.2 L375.4,402.2" stroke="#1f77b4" stroke-width="2.0"/>
<path d="M386.2,67.6 L393.7,68.7 L397.6,69.7 L394.0,70.5 L387.0,71.3 L389.2,72.2 L391.9,73.0 L381.7,74.2 L369.1,75.4 L369.5,76.5 L365.7,77.6 L366.6,78.7 L375.0,79.5 L380.5,80.3 L382.5,81.4 L380.2,82.5 L382.9,83.6 L380.5,84.6 L379.9,85.6 L378.3,86.5 L377.3,87.5 L378.9,88.5 L380.0,89.5 L383.2,90.5 L386.3,91.6 L390.3,92.6 L388.7,93.4 L391.9,94.2 L387.4,95.0 L378.9,95.8 L378.0,96.9 L376.1,98.0 L374.0,99.1 L376.5,100.2 L376.6,101.2 L377.2,102.3 L375.3,103.4 L375.5,104.5 L373.1,105.6 L375.0,106.8 L381.3,108.1 L375.1,109.2 L370.4,110.2 L363.3,111.3 L357.7,112.3 L358.3,113.3 L354.5,114.2 L350.9,115.2 L346.2,116.2 L350.9,117.5 L354.4,118.7 L358.2,119.5 L362.5,120.3 L361.5,121.1 L356.8,121.9 L369.1,122.7 L365.7,124.0 L360.1,125.2 L362.4,126.0 L364.2,126.8 L361.3,127.9 L360.0,129.0 L355.2,130.1 L358.8,131.3 L364.2,132.5 L369.0,133.3 L369.9,134.2 L361.9,135.0 L357.6,135.8 L361.9,137.0 L367.4,138.2 L373.5,139.4 L377.2,140.7 L370.1,141.9 L365.8,143.1 L370.6,143.9 L372.3,144.8 L369.1,146.0 L363.0,147.0 L356.1,147.9 L349.5,148.9 L357.5,149.9 L364.2,150.9 L358.2,152.1 L355.2,153.3 L356.4,154.6 L362.5,155.8 L358.2,156.7 L355.0,157.6 L345.9,158.5 L343.0,159.4 L358.1,160.4 L373.1,161.5 L366.8,162.3 L359.3,163.1 L361.7,164.1 L361.9,165.0 L367.3,165.9 L369.1,166.9 L361.5,168.0 L356.9,169.1 L353.6,170.2 L360.1,171.1 L364.2,172.1 L367.1,173.2 L366.0,174.3 L369.9,175.4 L363.2,176.4 L354.8,177.3 L349.5,178.3 L361.8,179.4 L378.9,180.6 L363.2,181.5 L351.2,182.3 L338.1,183.2 L354.6,184.2 L367.4,185.2 L360.0,186.0 L349.5,186.8 L351.4,187.8 L352.6,188.7 L356.8,189.7 L347.8,190.6 L342.1,191.6 L336.4,192.5 L343.6,193.8 L349.5,195.0 L330.7,196.3 L331.7,197.4 L334.7,198.5 L341.2,199.6 L343.0,200.7 L341.5,201.6 L334.1,202.5 L331.5,203.4 L333.3,204.3 L335.0,205.3 L337.8,206.2 L343.0,207.2 L343.4,208.3 L340.5,209.4 L338.1,210.5 L347.6,211.4 L357.6,212.3 L365.8,213.2 L359.8,214.3 L356.8,215.4 L359.5,216.6 L365.0,217.8 L365.9,218.7 L369.7,219.6 L374.1,220.5 L376.4,221.4 L372.3,222.4 L363.3,223.5 L356.7,224.8 L354.4,226.0 L360.1,227.3 L356.7,228.2 L349.5,229.2 L350.9,230.2 L355.2,231.3 L354.0,232.4 L352.0,233.4 L348.7,234.5 L351.1,235.5 L356.8,236.6 L357.8,237.6 L362.5,238.6 L355.2,239.8 L350.3,241.1 L358.1,242.3 L365.0,243.5 L358.6,244.6 L352.0,245.7 L346.2,246.8 L341.3,248.0 L338.1,249.2 L338.8,250.2 L339.0,251.2 L340.6,252.3 L338.9,253.3 L343.8,254.4 L352.6,255.5 L357.6,256.6 L355.6,257.8 L349.5,259.0 L344.7,260.2 L340.5,261.5 L349.1,262.6 L360.5,263.6 L368.2,264.7 L355.9,265.9 L338.9,267.2 L351.5,268.4 L365.0,269.6 L359.1,270.9 L351.9,272.1 L356.4,273.1 L357.3,274.1 L363.8,275.1 L366.6,276.1 L363.2,277.4 L356.0,278.6 L361.9,279.4 L369.1,280.2 L362.9,281.3 L362.9,282.4 L356.8,283.5 L359.5,284.4 L361.9,285.4 L366.1,286.4 L372.3,287.3 L371.3,288.2 L376.4,289.2 L364.8,290.4 L354.4,291.6 L361.7,292.9 L369.1,294.1 L366.6,295.2 L363.5,296.3 L363.3,297.4 L362.7,298.4 L361.9,299.3 L358.8,300.3 L359.1,301.2 L356.0,302.2 L362.0,303.0 L365.8,303.9 L365.9,304.9 L361.7,305.9 L357.9,306.8 L360.2,307.8 L356.0,308.8 L363.7,309.8 L367.3,310.9 L375.4,311.9 L370.4,312.9 L364.3,313.9 L356.0,314.9 L359.2,315.9 L363.9,316.8 L370.6,317.8 L365.0,318.8 L361.4,319.7 L357.0,320.7 L361.0,321.6 L365.7,322.6 L364.7,323.6 L361.4,324.5 L359.4,325.5 L354.5,326.5 L353.0,327.4 L352.2,328.4 L359.7,329.4 L365.7,330.4 L361.9,331.4 L358.5,332.4 L360.9,333.3 L356.0,334.3 L360.8,335.3 L363.6,336.2 L368.7,337.2 L365.1,338.1 L364.2,339.1 L360.3,340.1 L358.0,341.0 L359.4,342.0 L359.4,343.0 L359.6,343.9 L363.4,344.9 L361.9,345.9 L359.1,346.9 L353.4,347.8 L350.2,348.8 L353.8,349.8 L354.6,350.7 L358.0,351.7 L356.8,352.7 L351.7,353.6 L351.6,354.6 L349.3,355.6 L352.1,356.6 L358.5,357.6 L359.4,358.5 L363.8,359.5 L361.7,360.5 L357.1,361.4 L354.1,362.4 L355.4,363.4 L357.4,364.3 L354.9,365.3 L356.4,366.2 L358.0,367.2 L361.2,368.2 L366.8,369.1 L367.7,370.1 L362.0,371.5 L367.4,372.2 L372.0,373.0 L369.5,373.8 L364.0,374.5 L368.7,375.2 L375.0,376.0 L368.2,376.8 L365.0,377.5 L368.6,378.6 L374.5,379.8 L363.0,381.0 L365.6,381.8 L368.0,382.5 L363.3,383.5 L362.6,384.6 L357.7,385.6 L353.1,386.6 L350.2,387.6 L349.2,388.6 L349.3,389.5 L350.2,390.5 L353.6,391.5 L357.5,392.4 L355.5,393.4 L360.7,394.4 L364.5,395.3 L365.7,396.3 L366.8,397.3 L365.5,398.2 L368.9,399.2 L366.7,400.2 L371.5,401.2 L375.4,402.2" stroke="#ff7f0e" stroke-width="2.0"/>
</g>
<rect x="62.1" y="66.9" width="73.60" height="336.00" fill="none" stroke="#000" stroke-width="1.25"/>
<rect x="150.8" y="66.9" width="73.10" height="336.00" fill="none" stroke="#000" stroke-width="1.25"/>
<rect x="239.1" y="66.9" width="73.10" height="336.00" fill="none" stroke="#000" stroke-width="1.25"/>
<rect x="327.6" y="66.9" width="73.40" height="336.00" fill="none" stroke="#000" stroke-width="1.25"/>
<clipPath id="b517"><rect x="517.3" y="59.2" width="70.60000000000002" height="359.2"/></clipPath>
<g clip-path="url(#b517)" fill="none" stroke-linejoin="round" stroke-linecap="round">
<path d="M579.5,76.3 L575.4,77.5 L573.9,78.7 L565.0,79.9 L561.2,81.1 L559.9,82.3 L556.4,83.5 L552.8,84.6 L555.6,85.6 L554.8,86.7 L557.8,87.8 L562.8,89.0 L576.3,89.8 L567.2,91.0 L564.4,92.2 L570.0,93.4 L575.5,94.6 L569.0,95.8 L569.1,97.0 L572.2,98.2 L576.3,99.4 L570.3,100.5 L567.5,101.5 L567.5,102.6 L569.0,103.8 L571.5,105.0 L570.9,106.0 L562.8,107.0 L560.6,108.0 L559.6,109.0 L562.3,110.0 L566.4,111.0 L565.6,111.9 L566.8,112.9 L569.1,114.1 L556.4,115.3 L549.3,116.5 L543.7,117.7 L547.1,118.9 L543.7,120.1 L534.8,121.3 L532.5,122.5 L537.3,123.3 L546.2,124.5 L550.0,125.7 L551.3,126.7 L555.6,127.7 L545.9,128.7 L541.3,129.7 L545.3,130.6 L554.8,131.6 L540.5,132.8 L543.9,133.9 L550.0,135.0 L542.1,136.0 L552.7,137.2 L558.8,138.4 L549.8,139.6 L545.3,140.8 L549.7,141.8 L553.9,142.7 L555.8,143.7 L560.9,144.6 L564.4,145.6 L556.5,146.8 L554.8,147.9 L550.0,148.9 L549.5,149.8 L551.3,150.8 L547.9,151.7 L546.8,152.7 L529.3,153.5 L537.0,154.6 L548.0,155.6 L556.4,156.7 L552.9,157.7 L548.6,158.7 L549.0,159.7 L543.7,160.7 L541.9,161.6 L535.5,162.5 L534.6,163.4 L530.9,164.3 L546.2,165.2 L561.2,166.0 L556.7,167.1 L548.5,168.3 L539.7,169.4 L547.3,170.2 L558.0,171.0 L553.5,172.1 L539.3,173.1 L534.1,174.2 L538.9,175.3 L546.7,176.4 L547.7,177.6 L555.6,178.7 L550.5,179.6 L542.3,180.4 L541.9,181.3 L535.7,182.2 L548.0,183.3 L557.0,184.3 L566.8,185.4 L550.0,186.4 L527.7,187.3 L561.2,188.5 L548.7,189.7 L538.9,190.9 L545.1,192.1 L548.4,193.3 L537.2,194.5 L524.6,195.7 L531.8,196.8 L537.6,197.8 L544.5,198.9 L520.6,199.7 L527.4,200.5 L529.3,201.3 L534.6,202.4 L533.4,203.4 L535.7,204.5 L529.7,205.3 L521.4,206.1 L520.3,207.1 L527.1,208.2 L527.7,209.2 L533.0,210.3 L539.8,211.3 L540.5,212.4 L537.2,213.2 L529.3,214.0 L541.3,215.2 L556.4,216.4 L549.2,217.2 L543.7,218.0 L548.6,219.1 L547.7,220.1 L554.8,221.2 L556.7,222.1 L556.8,223.0 L558.6,223.9 L563.6,224.8 L554.3,225.9 L553.3,226.9 L545.3,228.0 L553.2,229.1 L541.8,230.3 L535.7,231.5 L539.4,232.7 L546.8,233.9 L542.8,234.9 L543.1,235.9 L534.3,236.9 L534.1,237.9 L538.8,239.0 L544.5,240.0 L549.2,241.1 L546.9,242.2 L541.4,243.2 L534.1,244.3 L546.3,245.4 L553.2,246.6 L542.9,247.8 L535.7,249.0 L533.1,250.0 L530.7,251.0 L532.5,252.0 L527.7,253.0 L531.6,254.2 L529.0,255.4 L532.2,256.5 L538.1,257.5 L546.1,258.6 L541.4,259.4 L540.5,260.2 L535.4,261.3 L534.0,262.3 L530.9,263.4 L539.8,264.3 L545.7,265.3 L555.6,266.2 L543.0,267.1 L536.9,268.0 L528.5,268.9 L530.3,269.9 L534.4,270.8 L539.9,271.8 L540.8,272.7 L542.1,273.7 L546.4,274.8 L551.4,275.8 L554.8,276.9 L550.1,278.1 L542.9,279.3 L544.5,280.4 L555.3,281.4 L557.2,282.5 L552.5,283.3 L543.7,284.1 L549.7,285.2 L552.5,286.2 L552.9,287.2 L556.2,288.3 L557.4,289.3 L563.6,290.4 L554.6,291.6 L543.7,292.8 L547.7,294.0 L558.0,295.2 L551.7,296.3 L549.5,297.3 L548.4,298.4 L549.2,299.6 L554.8,300.8 L546.1,302.0 L539.7,303.1 L539.2,304.1 L541.5,305.0 L545.3,306.0 L547.6,306.9 L553.2,307.9 L547.5,308.9 L540.3,309.8 L538.9,310.8 L553.5,311.6 L562.8,312.4 L558.0,313.3 L549.1,314.1 L544.3,315.0 L540.5,315.9 L548.2,316.7 L558.0,317.5 L554.0,318.5 L549.3,319.5 L551.6,320.5 L546.1,321.5 L554.0,322.3 L554.8,323.1 L549.8,324.2 L545.3,325.4 L542.5,326.5 L537.0,327.5 L537.3,328.6 L542.8,329.8 L554.0,331.0 L548.5,332.2 L545.3,333.4 L546.6,334.4 L553.6,335.4 L551.8,336.4 L557.2,337.4 L548.7,338.5 L550.4,339.5 L542.1,340.6 L547.4,341.5 L552.3,342.3 L546.7,343.5 L546.1,344.7 L550.3,345.9 L553.8,347.0 L541.8,347.8 L536.7,348.5 L541.8,349.5 L549.8,350.4 L553.9,351.4 L556.1,352.4 L548.9,353.6 L538.9,354.8 L537.0,356.0 L538.5,357.1 L545.6,358.2 L554.6,359.4 L548.6,360.4 L549.3,361.5 L543.7,362.5 L547.0,363.6 L549.9,364.8 L549.1,365.9 L543.0,366.9 L541.4,368.0 L544.9,369.2 L552.3,370.5 L557.7,371.8 L558.0,372.8 L563.9,374.2 L556.0,375.5 L562.0,376.5 L555.4,377.8 L560.7,378.6 L561.6,379.5 L562.0,380.8 L558.0,381.8 L549.9,383.0 L550.4,383.8 L544.0,384.5 L543.3,385.6 L537.5,386.6 L543.0,388.0 L542.7,388.9 L538.0,389.7 L546.0,391.0 L543.0,392.0 L548.3,392.8 L549.0,393.5 L546.5,394.5 L555.4,395.9 L556.9,396.7 L555.0,397.5 L554.0,398.2 L556.9,399.0 L558.6,399.8 L560.0,400.5 L563.3,401.3 L568.6,402.1" stroke="#000000" stroke-width="2.5"/>
<path d="M579.5,76.3 L578.6,77.5 L573.9,78.7 L565.8,79.9 L561.2,81.1 L560.3,82.3 L556.4,83.5 L555.5,84.6 L553.9,85.6 L554.8,86.7 L558.5,87.8 L562.8,89.0 L576.3,89.8 L571.4,91.0 L564.4,92.2 L571.5,93.4 L575.5,94.6 L571.3,95.8 L569.1,97.0 L572.4,98.2 L576.3,99.4 L573.8,100.5 L572.4,101.5 L567.5,102.6 L571.4,103.8 L571.5,105.0 L567.0,106.0 L564.9,107.0 L561.4,108.0 L559.6,109.0 L560.9,110.0 L561.9,111.0 L565.0,111.9 L566.8,112.9 L569.1,114.1 L556.4,115.3 L551.8,116.5 L543.7,117.7 L544.4,118.9 L543.7,120.1 L536.6,121.3 L532.5,122.5 L537.3,123.3 L544.4,124.5 L550.0,125.7 L553.9,126.7 L555.6,127.7 L547.5,128.7 L541.3,129.7 L549.5,130.6 L554.8,131.6 L540.5,132.8 L547.2,133.9 L550.0,135.0 L542.1,136.0 L545.6,137.2 L552.0,138.4 L548.3,139.6 L545.3,140.8 L548.7,141.8 L550.4,142.7 L553.7,143.7 L554.4,144.6 L556.0,145.6 L556.4,146.8 L554.8,147.9 L552.6,148.9 L552.6,149.8 L548.4,150.8 L546.8,151.7 L546.8,152.7 L529.3,153.5 L540.2,154.6 L547.1,155.6 L556.4,156.7 L551.7,157.7 L550.2,158.7 L547.6,159.7 L543.7,160.7 L541.2,161.6 L537.9,162.5 L534.5,163.4 L530.9,164.3 L542.5,165.2 L552.0,166.0 L549.8,167.1 L543.0,168.3 L539.7,169.4 L547.5,170.2 L558.0,171.0 L548.7,172.1 L541.9,173.1 L534.1,174.2 L540.6,175.3 L546.5,176.4 L551.6,177.6 L555.6,178.7 L551.1,179.6 L544.6,180.4 L539.1,181.3 L535.7,182.2 L539.1,183.3 L545.3,184.3 L550.0,185.4 L541.2,186.4 L535.0,187.3 L561.2,188.5 L552.0,189.7 L538.9,190.9 L544.1,192.1 L548.4,193.3 L535.6,194.5 L524.6,195.7 L533.0,196.8 L539.3,197.8 L544.5,198.9 L526.0,199.7 L526.2,200.5 L529.3,201.3 L530.9,202.4 L535.5,203.4 L535.7,204.5 L528.5,205.3 L521.4,206.1 L524.3,207.1 L526.2,208.2 L527.7,209.2 L533.6,210.3 L535.9,211.3 L540.5,212.4 L533.0,213.2 L529.3,214.0 L542.5,215.2 L556.4,216.4 L550.1,217.2 L543.7,218.0 L546.6,219.1 L550.0,220.1 L554.8,221.2 L554.3,222.1 L554.6,223.0 L556.4,223.9 L555.0,224.8 L550.4,225.9 L548.7,226.9 L545.3,228.0 L553.2,229.1 L545.2,230.3 L535.7,231.5 L540.1,232.7 L546.8,233.9 L543.8,234.9 L539.2,235.9 L538.3,236.9 L534.1,237.9 L540.0,239.0 L543.5,240.0 L549.2,241.1 L542.4,242.2 L539.4,243.2 L534.1,244.3 L543.9,245.4 L553.2,246.6 L545.7,247.8 L535.7,249.0 L536.7,250.0 L537.7,251.0 L536.7,252.0 L537.0,253.0 L537.2,254.2 L538.0,255.4 L539.7,256.5 L544.8,257.5 L546.1,258.6 L544.4,259.4 L540.5,260.2 L541.1,261.3 L539.7,262.3 L540.0,263.4 L544.3,264.3 L549.0,265.3 L555.6,266.2 L548.2,267.1 L543.0,268.0 L538.0,268.9 L538.0,269.9 L539.1,270.8 L541.0,271.8 L539.6,272.7 L542.1,273.7 L546.8,274.8 L550.0,275.8 L554.8,276.9 L548.7,278.1 L542.9,279.3 L546.3,280.4 L554.4,281.4 L557.2,282.5 L550.4,283.3 L543.7,284.1 L545.9,285.2 L549.0,286.2 L549.6,287.2 L553.2,288.3 L555.2,289.3 L556.0,290.4 L551.0,291.6 L543.7,292.8 L549.2,294.0 L558.0,295.2 L553.1,296.3 L551.6,297.3 L548.4,298.4 L552.4,299.6 L554.8,300.8 L547.9,302.0 L539.7,303.1 L542.1,304.1 L546.0,305.0 L545.9,306.0 L550.3,306.9 L553.2,307.9 L547.6,308.9 L542.9,309.8 L538.9,310.8 L547.0,311.6 L556.0,312.4 L553.5,313.3 L547.3,314.1 L543.7,315.0 L540.5,315.9 L548.5,316.7 L554.0,317.5 L551.6,318.5 L548.5,319.5 L549.7,320.5 L546.1,321.5 L550.9,322.3 L554.8,323.1 L551.6,324.2 L545.3,325.4 L544.5,326.5 L541.9,327.5 L537.3,328.6 L547.2,329.8 L554.0,331.0 L547.9,332.2 L545.3,333.4 L550.1,334.4 L549.3,335.4 L555.9,336.4 L557.2,337.4 L553.6,338.5 L545.9,339.5 L542.1,340.6 L547.0,341.5 L552.3,342.3 L549.3,343.5 L546.1,344.7 L550.4,345.9 L553.8,347.0 L545.7,347.8 L536.7,348.5 L542.0,349.5 L547.6,350.4 L550.7,351.4 L556.1,352.4 L548.2,353.6 L541.0,354.8 L541.7,356.0 L543.0,357.1 L548.0,358.2 L554.6,359.4 L550.8,360.4 L545.6,361.5 L543.7,362.5 L546.3,363.6 L549.9,364.8 L545.4,365.9 L545.0,366.9 L541.4,368.0 L548.5,369.2 L552.3,370.5 L557.7,371.8 L554.0,372.8 L563.9,374.2 L556.0,375.5 L562.0,376.5 L555.4,377.8 L558.4,378.6 L561.6,379.5 L553.0,380.8 L558.0,381.8 L549.9,383.0 L546.7,383.8 L544.0,384.5 L541.0,385.6 L539.8,386.6 L543.0,388.0 L543.3,388.9 L540.6,389.7 L546.0,391.0 L543.0,392.0 L546.6,392.8 L549.0,393.5 L546.5,394.5 L555.4,395.9 L552.9,396.7 L552.0,397.5 L555.2,398.2 L556.9,399.0 L557.0,399.8 L560.0,400.5 L566.0,401.3 L568.6,402.1" stroke="#00ff00" stroke-width="2.0"/>
</g>
<clipPath id="b602"><rect x="602.1" y="59.2" width="70.19999999999993" height="359.2"/></clipPath>
<g clip-path="url(#b602)" fill="none" stroke-linejoin="round" stroke-linecap="round">
<path d="M664.2,76.3 L660.1,77.5 L658.6,78.7 L649.7,79.9 L645.9,81.1 L644.6,82.3 L641.1,83.5 L637.5,84.6 L640.3,85.6 L639.5,86.7 L642.5,87.8 L647.5,89.0 L661.0,89.8 L651.9,91.0 L649.1,92.2 L654.7,93.4 L660.2,94.6 L653.7,95.8 L653.8,97.0 L656.9,98.2 L661.0,99.4 L655.0,100.5 L652.2,101.5 L652.2,102.6 L653.7,103.8 L656.2,105.0 L655.6,106.0 L647.5,107.0 L645.3,108.0 L644.3,109.0 L647.0,110.0 L651.1,111.0 L650.3,111.9 L651.5,112.9 L653.8,114.1 L641.1,115.3 L634.0,116.5 L628.4,117.7 L631.8,118.9 L628.4,120.1 L619.5,121.3 L617.2,122.5 L622.0,123.3 L630.9,124.5 L634.7,125.7 L636.0,126.7 L640.3,127.7 L630.6,128.7 L626.0,129.7 L630.0,130.6 L639.5,131.6 L625.2,132.8 L628.6,133.9 L634.7,135.0 L626.8,136.0 L637.4,137.2 L643.5,138.4 L634.5,139.6 L630.0,140.8 L634.4,141.8 L638.6,142.7 L640.5,143.7 L645.6,144.6 L649.1,145.6 L641.2,146.8 L639.5,147.9 L634.7,148.9 L634.2,149.8 L636.0,150.8 L632.6,151.7 L631.5,152.7 L614.0,153.5 L621.7,154.6 L632.7,155.6 L641.1,156.7 L637.6,157.7 L633.3,158.7 L633.7,159.7 L628.4,160.7 L626.6,161.6 L620.2,162.5 L619.3,163.4 L615.6,164.3 L630.9,165.2 L645.9,166.0 L641.4,167.1 L633.2,168.3 L624.4,169.4 L632.0,170.2 L642.7,171.0 L638.2,172.1 L624.0,173.1 L618.8,174.2 L623.6,175.3 L631.4,176.4 L632.4,177.6 L640.3,178.7 L635.2,179.6 L627.0,180.4 L626.6,181.3 L620.4,182.2 L632.7,183.3 L641.7,184.3 L651.5,185.4 L634.7,186.4 L612.4,187.3 L645.9,188.5 L633.4,189.7 L623.6,190.9 L629.8,192.1 L633.1,193.3 L621.9,194.5 L609.3,195.7 L616.5,196.8 L622.3,197.8 L629.2,198.9 L605.3,199.7 L612.1,200.5 L614.0,201.3 L619.3,202.4 L618.1,203.4 L620.4,204.5 L614.4,205.3 L606.1,206.1 L605.0,207.1 L611.8,208.2 L612.4,209.2 L617.7,210.3 L624.5,211.3 L625.2,212.4 L621.9,213.2 L614.0,214.0 L626.0,215.2 L641.1,216.4 L633.9,217.2 L628.4,218.0 L633.3,219.1 L632.4,220.1 L639.5,221.2 L641.4,222.1 L641.5,223.0 L643.3,223.9 L648.3,224.8 L639.0,225.9 L638.0,226.9 L630.0,228.0 L637.9,229.1 L626.5,230.3 L620.4,231.5 L624.1,232.7 L631.5,233.9 L627.5,234.9 L627.8,235.9 L619.0,236.9 L618.8,237.9 L623.5,239.0 L629.2,240.0 L633.9,241.1 L631.6,242.2 L626.1,243.2 L618.8,244.3 L631.0,245.4 L637.9,246.6 L627.6,247.8 L620.4,249.0 L617.8,250.0 L615.4,251.0 L617.2,252.0 L612.4,253.0 L616.3,254.2 L613.7,255.4 L616.9,256.5 L622.8,257.5 L630.8,258.6 L626.1,259.4 L625.2,260.2 L620.1,261.3 L618.7,262.3 L615.6,263.4 L624.5,264.3 L630.4,265.3 L640.3,266.2 L627.7,267.1 L621.6,268.0 L613.2,268.9 L615.0,269.9 L619.1,270.8 L624.6,271.8 L625.5,272.7 L626.8,273.7 L631.1,274.8 L636.1,275.8 L639.5,276.9 L634.8,278.1 L627.6,279.3 L629.2,280.4 L640.0,281.4 L641.9,282.5 L637.2,283.3 L628.4,284.1 L634.4,285.2 L637.2,286.2 L637.6,287.2 L640.9,288.3 L642.1,289.3 L648.3,290.4 L639.3,291.6 L628.4,292.8 L632.4,294.0 L642.7,295.2 L636.4,296.3 L634.2,297.3 L633.1,298.4 L633.9,299.6 L639.5,300.8 L630.8,302.0 L624.4,303.1 L623.9,304.1 L626.2,305.0 L630.0,306.0 L632.3,306.9 L637.9,307.9 L632.2,308.9 L625.0,309.8 L623.6,310.8 L638.2,311.6 L647.5,312.4 L642.7,313.3 L633.8,314.1 L629.0,315.0 L625.2,315.9 L632.9,316.7 L642.7,317.5 L638.7,318.5 L634.0,319.5 L636.3,320.5 L630.8,321.5 L638.7,322.3 L639.5,323.1 L634.5,324.2 L630.0,325.4 L627.2,326.5 L621.7,327.5 L622.0,328.6 L627.5,329.8 L638.7,331.0 L633.2,332.2 L630.0,333.4 L631.3,334.4 L638.3,335.4 L636.5,336.4 L641.9,337.4 L633.4,338.5 L635.1,339.5 L626.8,340.6 L632.1,341.5 L637.0,342.3 L631.4,343.5 L630.8,344.7 L635.0,345.9 L638.5,347.0 L626.5,347.8 L621.4,348.5 L626.5,349.5 L634.5,350.4 L638.6,351.4 L640.8,352.4 L633.6,353.6 L623.6,354.8 L621.7,356.0 L623.2,357.1 L630.3,358.2 L639.3,359.4 L633.3,360.4 L634.0,361.5 L628.4,362.5 L631.7,363.6 L634.6,364.8 L633.8,365.9 L627.7,366.9 L626.1,368.0 L629.6,369.2 L637.0,370.5 L642.4,371.8 L642.7,372.8 L648.6,374.2 L640.7,375.5 L646.7,376.5 L640.1,377.8 L645.4,378.6 L646.3,379.5 L646.7,380.8 L642.7,381.8 L634.6,383.0 L635.1,383.8 L628.7,384.5 L628.0,385.6 L622.2,386.6 L627.7,388.0 L627.4,388.9 L622.7,389.7 L630.7,391.0 L627.7,392.0 L633.0,392.8 L633.7,393.5 L631.2,394.5 L640.1,395.9 L641.6,396.7 L639.7,397.5 L638.7,398.2 L641.6,399.0 L643.3,399.8 L644.7,400.5 L648.0,401.3 L653.3,402.1" stroke="#000000" stroke-width="2.5"/>
<path d="M669.3,76.3 L663.6,77.1 L660.5,77.9 L656.0,79.0 L650.7,80.0 L646.2,81.1 L644.6,82.1 L641.2,83.0 L640.4,84.0 L640.2,84.9 L638.2,85.9 L641.8,86.9 L642.9,88.0 L647.8,89.0 L662.1,89.8 L656.6,90.9 L656.3,91.9 L651.0,93.0 L654.8,94.2 L662.1,95.4 L657.1,96.6 L652.5,97.8 L656.8,99.0 L663.7,100.2 L660.3,101.2 L656.5,102.2 L652.2,103.2 L649.4,104.2 L647.3,105.2 L647.7,106.1 L648.4,107.1 L647.2,108.0 L644.6,109.0 L646.9,109.9 L649.4,110.9 L649.0,111.8 L649.7,112.8 L652.5,113.7 L645.7,114.7 L640.3,115.7 L634.5,116.7 L630.3,117.7 L628.1,118.7 L626.9,119.6 L624.8,120.6 L621.9,121.5 L619.1,122.5 L624.1,123.5 L628.1,124.5 L631.3,125.5 L633.4,126.5 L630.4,127.5 L631.6,128.5 L627.5,129.5 L627.1,130.5 L625.2,131.5 L625.8,132.6 L625.5,133.6 L634.7,135.0 L626.8,136.0 L632.6,137.2 L636.7,138.4 L632.3,139.6 L630.0,140.8 L634.1,141.8 L634.8,142.7 L637.7,143.7 L638.7,144.6 L640.7,145.6 L638.9,146.8 L639.5,147.9 L639.1,148.9 L634.4,149.8 L636.6,150.8 L632.3,151.7 L631.5,152.7 L614.0,153.5 L623.5,154.6 L631.5,155.6 L641.1,156.7 L637.5,157.7 L633.8,158.7 L632.6,159.7 L628.4,160.7 L624.4,161.6 L622.1,162.5 L620.7,163.4 L615.6,164.3 L627.7,165.2 L636.7,166.0 L632.9,167.1 L629.8,168.3 L624.4,169.4 L631.7,170.2 L642.7,171.0 L635.2,172.1 L628.1,173.1 L618.8,174.2 L624.8,175.3 L629.1,176.4 L635.8,177.6 L640.3,178.7 L635.1,179.6 L630.8,180.4 L625.2,181.3 L620.4,182.2 L624.4,183.3 L629.3,184.3 L634.7,185.4 L626.7,186.4 L619.7,187.3 L636.1,188.1 L656.5,188.9 L640.6,189.9 L623.6,190.9 L630.1,192.1 L633.1,193.3 L620.4,194.5 L609.3,195.7 L617.7,196.8 L620.6,197.8 L629.2,198.9 L610.7,199.7 L612.5,200.5 L614.0,201.3 L614.8,202.4 L619.7,203.4 L620.4,204.5 L612.7,205.3 L606.1,206.1 L606.7,207.1 L610.7,208.2 L612.4,209.2 L616.3,210.3 L620.6,211.3 L625.2,212.4 L620.2,213.2 L614.0,214.0 L626.7,215.2 L641.1,216.4 L636.7,217.2 L628.4,218.0 L631.1,219.1 L634.2,220.1 L639.5,221.2 L638.3,222.1 L641.6,223.0 L638.5,223.9 L639.7,224.8 L634.9,225.9 L632.4,226.9 L630.0,228.0 L637.9,229.1 L629.1,230.3 L620.4,231.5 L627.1,232.7 L631.5,233.9 L627.1,234.9 L626.8,235.9 L620.1,236.9 L618.8,237.9 L623.2,239.0 L629.0,240.0 L633.9,241.1 L630.8,242.2 L625.4,243.2 L618.8,244.3 L627.0,245.4 L637.9,246.6 L629.9,247.8 L620.4,249.0 L621.5,250.0 L622.8,251.0 L620.8,252.0 L621.7,253.0 L624.1,254.2 L622.7,255.4 L623.4,256.5 L628.0,257.5 L630.8,258.6 L629.5,259.4 L625.2,260.2 L623.4,261.3 L626.6,262.3 L624.7,263.4 L631.5,264.3 L636.5,265.3 L640.3,266.2 L634.9,267.1 L629.6,268.0 L622.7,268.9 L624.4,269.9 L624.7,270.8 L623.9,271.8 L626.7,272.7 L626.8,273.7 L632.0,274.8 L635.6,275.8 L639.5,276.9 L634.4,278.1 L627.6,279.3 L632.3,280.4 L635.8,281.4 L641.9,282.5 L636.9,283.3 L628.4,284.1 L629.0,285.2 L633.8,286.2 L636.1,287.2 L637.6,288.3 L639.5,289.3 L640.7,290.4 L635.7,291.6 L628.4,292.8 L635.8,294.0 L642.7,295.2 L639.2,296.3 L637.4,297.3 L633.1,298.4 L636.3,299.6 L639.5,300.8 L633.6,302.0 L624.4,303.1 L627.6,304.1 L629.1,305.0 L633.2,306.0 L636.7,306.9 L637.9,307.9 L632.3,308.9 L627.7,309.8 L623.6,310.8 L631.8,311.6 L640.7,312.4 L634.9,313.3 L634.6,314.1 L630.8,315.0 L625.2,315.9 L630.7,316.7 L638.7,317.5 L635.1,318.5 L633.3,319.5 L631.6,320.5 L630.8,321.5 L634.5,322.3 L639.5,323.1 L633.4,324.2 L630.0,325.4 L627.7,326.5 L625.7,327.5 L622.0,328.6 L631.4,329.8 L638.7,331.0 L634.4,332.2 L630.0,333.4 L632.7,334.4 L636.5,335.4 L639.6,336.4 L641.9,337.4 L635.7,338.5 L630.9,339.5 L626.8,340.6 L631.1,341.5 L637.0,342.3 L634.1,343.5 L630.8,344.7 L633.4,345.9 L638.5,347.0 L630.8,347.8 L621.4,348.5 L625.6,349.5 L630.8,350.4 L635.8,351.4 L640.8,352.4 L634.4,353.6 L625.7,354.8 L626.7,356.0 L627.7,357.1 L635.3,358.2 L639.3,359.4 L636.4,360.4 L630.1,361.5 L628.4,362.5 L633.4,363.6 L634.6,364.8 L632.1,365.9 L630.0,366.9 L626.1,368.0 L631.6,369.2 L637.0,370.5 L642.4,371.8 L638.7,372.8 L648.6,374.2 L640.7,375.5 L646.7,376.5 L640.1,377.8 L642.1,378.6 L646.3,379.5 L637.7,380.8 L642.7,381.8 L634.6,383.0 L631.2,383.8 L628.7,384.5 L624.8,385.6 L624.5,386.6 L627.7,388.0 L624.9,388.9 L625.3,389.7 L630.7,391.0 L627.7,392.0 L629.3,392.8 L633.7,393.5 L631.2,394.5 L640.1,395.9 L639.5,396.7 L636.7,397.5 L637.9,398.2 L641.6,399.0 L643.5,399.8 L644.7,400.5 L650.8,401.3 L653.3,402.1" stroke="#00ff00" stroke-width="2.0"/>
</g>
<rect x="517.3" y="59.2" width="70.60" height="359.20" fill="none" stroke="#000" stroke-width="1.25"/>
<rect x="602.1" y="59.2" width="70.20" height="359.20" fill="none" stroke="#000" stroke-width="1.25"/>
<path d="M58.80,66.90 H62.10 M58.80,104.23 H62.10 M58.80,141.57 H62.10 M58.80,178.90 H62.10 M58.80,216.23 H62.10 M58.80,253.57 H62.10 M58.80,290.90 H62.10 M58.80,328.23 H62.10 M58.80,365.57 H62.10 M58.80,402.90 H62.10 M78.00,402.90 V406.20 M124.00,402.90 V406.20 M156.50,402.90 V406.20 M187.20,402.90 V406.20 M217.80,402.90 V406.20 M239.10,402.90 V406.20 M284.70,402.90 V406.20 M334.70,402.90 V406.20 M375.10,402.90 V406.20 M514.00,110.30 H517.30 M514.00,183.05 H517.30 M514.00,255.80 H517.30 M514.00,328.55 H517.30 M514.00,401.30 H517.30 M524.10,418.40 V421.70 M563.30,418.40 V421.70 M608.80,418.40 V421.70 M648.00,418.40 V421.70 " stroke="#000" stroke-width="1.1" fill="none"/>
<text stroke="#000" stroke-width="0.28" x="88.031" y="61.700" font-family="'Liberation Sans', sans-serif" font-weight="normal" font-style="normal" font-size="18.100" textLength="22.301" lengthAdjust="spacingAndGlyphs" fill="#000">VP</text>
<text stroke="#000" stroke-width="0.28" x="162.817" y="61.700" font-family="'Liberation Sans', sans-serif" font-weight="normal" font-style="normal" font-size="18.100" textLength="48.700" lengthAdjust="spacingAndGlyphs" fill="#000">RHOB</text>
<text stroke="#000" stroke-width="0.28" x="255.282" y="61.700" font-family="'Liberation Sans', sans-serif" font-weight="normal" font-style="normal" font-size="18.100" textLength="40.251" lengthAdjust="spacingAndGlyphs" fill="#000">NPHI</text>
<text stroke="#000" stroke-width="0.28" x="352.497" y="61.700" font-family="'Liberation Sans', sans-serif" font-weight="normal" font-style="normal" font-size="18.100" textLength="22.743" lengthAdjust="spacingAndGlyphs" fill="#000">VS</text>
<text stroke="#000" stroke-width="0.28" x="534.368" y="53.450" font-family="'Liberation Sans', sans-serif" font-weight="normal" font-style="normal" font-size="18.800" textLength="36.810" lengthAdjust="spacingAndGlyphs" fill="#000">MLP</text>
<text stroke="#000" stroke-width="0.28" x="601.711" y="14.050" font-family="'Liberation Sans', sans-serif" font-weight="normal" font-style="normal" font-size="18.800" textLength="71.170" lengthAdjust="spacingAndGlyphs" fill="#000">Multiple</text>
<text stroke="#000" stroke-width="0.28" x="609.257" y="33.750" font-family="'Liberation Sans', sans-serif" font-weight="normal" font-style="normal" font-size="18.800" textLength="55.844" lengthAdjust="spacingAndGlyphs" fill="#000">Linear</text>
<text stroke="#000" stroke-width="0.28" x="588.663" y="53.450" font-family="'Liberation Sans', sans-serif" font-weight="normal" font-style="normal" font-size="18.800" textLength="94.817" lengthAdjust="spacingAndGlyphs" fill="#000">Regression</text>




<text stroke="#000" stroke-width="0.28" x="85.911" y="459.700" font-family="'Liberation Sans', sans-serif" font-weight="normal" font-style="normal" font-size="15.100" textLength="25.406" lengthAdjust="spacingAndGlyphs" fill="#000">m/s</text>
<text stroke="#000" stroke-width="0.28" x="166.775" y="457.000" font-family="'Liberation Sans', sans-serif" font-weight="normal" font-style="normal" font-size="15.100" textLength="40.226" lengthAdjust="spacingAndGlyphs" fill="#000">g/cm³</text>
<text stroke="#000" stroke-width="0.28" x="263.497" y="456.800" font-family="'Liberation Sans', sans-serif" font-weight="normal" font-style="normal" font-size="15.100" textLength="24.235" lengthAdjust="spacingAndGlyphs" fill="#000">V/V</text>
<text stroke="#000" stroke-width="0.28" x="351.050" y="460.100" font-family="'Liberation Sans', sans-serif" font-weight="normal" font-style="normal" font-size="15.100" textLength="25.917" lengthAdjust="spacingAndGlyphs" fill="#000">m/s</text>
<text stroke="#000" stroke-width="0.28" x="523.744" y="479.500" font-family="'Liberation Sans', sans-serif" font-weight="normal" font-style="italic" font-size="16.200" textLength="9.735" lengthAdjust="spacingAndGlyphs" fill="#000">V</text>
<text stroke="#000" stroke-width="0.28" x="533.660" y="481.200" font-family="'Liberation Sans', sans-serif" font-weight="normal" font-style="italic" font-size="11.000" textLength="7.141" lengthAdjust="spacingAndGlyphs" fill="#000">S</text>
<text stroke="#000" stroke-width="0.28" x="541.584" y="479.500" font-family="'Liberation Sans', sans-serif" font-weight="normal" font-style="italic" font-size="15.600" textLength="38.227" lengthAdjust="spacingAndGlyphs" fill="#000">(m/s)</text>
<text stroke="#000" stroke-width="0.28" x="608.531" y="479.500" font-family="'Liberation Sans', sans-serif" font-weight="normal" font-style="italic" font-size="16.200" textLength="9.723" lengthAdjust="spacingAndGlyphs" fill="#000">V</text>
<text stroke="#000" stroke-width="0.28" x="618.244" y="481.200" font-family="'Liberation Sans', sans-serif" font-weight="normal" font-style="italic" font-size="11.000" textLength="7.348" lengthAdjust="spacingAndGlyphs" fill="#000">S</text>
<text stroke="#000" stroke-width="0.28" x="626.184" y="479.500" font-family="'Liberation Sans', sans-serif" font-weight="normal" font-style="italic" font-size="15.600" textLength="38.437" lengthAdjust="spacingAndGlyphs" fill="#000">(m/s)</text>
<text stroke="#000" stroke-width="0.28" x="219.646" y="487.600" font-family="'Liberation Serif', serif" font-weight="normal" font-style="normal" font-size="20.600" textLength="24.406" lengthAdjust="spacingAndGlyphs" fill="#000">(a)</text>
<text stroke="#000" stroke-width="0.28" x="588.713" y="510.000" font-family="'Liberation Serif', serif" font-weight="normal" font-style="normal" font-size="20.600" textLength="25.251" lengthAdjust="spacingAndGlyphs" fill="#000">(b)</text>
<text stroke="#000" stroke-width="0.28" x="10.900" y="272.542" transform="rotate(-90 10.900 272.542)" font-family="'Liberation Sans', sans-serif" font-weight="normal" font-style="normal" font-size="14.100" textLength="74.778" lengthAdjust="spacingAndGlyphs" fill="#000">DEPTH (m)</text>
<text stroke="#000" stroke-width="0.28" x="462.800" y="277.184" transform="rotate(-90 462.800 277.184)" font-family="'Liberation Sans', sans-serif" font-weight="normal" font-style="normal" font-size="15.100" textLength="75.824" lengthAdjust="spacingAndGlyphs" fill="#000">Detph (m)</text>
<text x="0" y="5.095" text-anchor="middle" transform="translate(77.078 426.460) rotate(-45)" font-family="'Liberation Sans', sans-serif" font-weight="bold" font-style="normal" font-size="14.600" textLength="39.104" lengthAdjust="spacingAndGlyphs" fill="#000">4000</text>
<text x="0" y="5.095" text-anchor="middle" transform="translate(123.311 426.440) rotate(-45)" font-family="'Liberation Sans', sans-serif" font-weight="bold" font-style="normal" font-size="14.600" textLength="39.104" lengthAdjust="spacingAndGlyphs" fill="#000">6000</text>
<text x="0" y="5.095" text-anchor="middle" transform="translate(155.205 424.965) rotate(-45)" font-family="'Liberation Sans', sans-serif" font-weight="bold" font-style="normal" font-size="14.600" textLength="34.665" lengthAdjust="spacingAndGlyphs" fill="#000">2.25</text>
<text x="0" y="5.095" text-anchor="middle" transform="translate(186.373 424.632) rotate(-45)" font-family="'Liberation Sans', sans-serif" font-weight="bold" font-style="normal" font-size="14.600" textLength="34.665" lengthAdjust="spacingAndGlyphs" fill="#000">2.50</text>
<text x="0" y="5.095" text-anchor="middle" transform="translate(216.542 425.262) rotate(-45)" font-family="'Liberation Sans', sans-serif" font-weight="bold" font-style="normal" font-size="14.600" textLength="34.665" lengthAdjust="spacingAndGlyphs" fill="#000">2.75</text>
<text x="0" y="5.095" text-anchor="middle" transform="translate(238.327 424.597) rotate(-45)" font-family="'Liberation Sans', sans-serif" font-weight="bold" font-style="normal" font-size="14.600" textLength="34.665" lengthAdjust="spacingAndGlyphs" fill="#000">0.00</text>
<text x="0" y="5.095" text-anchor="middle" transform="translate(284.287 425.134) rotate(-45)" font-family="'Liberation Sans', sans-serif" font-weight="bold" font-style="normal" font-size="14.600" textLength="34.665" lengthAdjust="spacingAndGlyphs" fill="#000">0.25</text>
<text x="0" y="5.095" text-anchor="middle" transform="translate(333.283 426.339) rotate(-45)" font-family="'Liberation Sans', sans-serif" font-weight="bold" font-style="normal" font-size="14.600" textLength="39.104" lengthAdjust="spacingAndGlyphs" fill="#000">2000</text>
<text x="0" y="5.095" text-anchor="middle" transform="translate(374.398 426.713) rotate(-45)" font-family="'Liberation Sans', sans-serif" font-weight="bold" font-style="normal" font-size="14.600" textLength="39.104" lengthAdjust="spacingAndGlyphs" fill="#000">3000</text>
<text x="0" y="5.409" text-anchor="middle" transform="translate(523.256 443.944) rotate(-45)" font-family="'Liberation Sans', sans-serif" font-weight="bold" font-style="normal" font-size="15.500" textLength="41.469" lengthAdjust="spacingAndGlyphs" fill="#000">2000</text>
<text x="0" y="5.409" text-anchor="middle" transform="translate(562.177 444.364) rotate(-45)" font-family="'Liberation Sans', sans-serif" font-weight="bold" font-style="normal" font-size="15.500" textLength="41.469" lengthAdjust="spacingAndGlyphs" fill="#000">3000</text>
<text x="0" y="5.409" text-anchor="middle" transform="translate(607.939 443.888) rotate(-45)" font-family="'Liberation Sans', sans-serif" font-weight="bold" font-style="normal" font-size="15.500" textLength="41.469" lengthAdjust="spacingAndGlyphs" fill="#000">2000</text>
<text x="0" y="5.409" text-anchor="middle" transform="translate(646.924 444.333) rotate(-45)" font-family="'Liberation Sans', sans-serif" font-weight="bold" font-style="normal" font-size="15.500" textLength="41.469" lengthAdjust="spacingAndGlyphs" fill="#000">3000</text>
<text x="55.69" y="71.81" text-anchor="end" font-family="'Liberation Sans', sans-serif" font-weight="bold" font-size="14.600" textLength="38.206" lengthAdjust="spacingAndGlyphs">5025</text>
<text x="55.69" y="109.14" text-anchor="end" font-family="'Liberation Sans', sans-serif" font-weight="bold" font-size="14.600" textLength="38.206" lengthAdjust="spacingAndGlyphs">5050</text>
<text x="55.69" y="146.48" text-anchor="end" font-family="'Liberation Sans', sans-serif" font-weight="bold" font-size="14.600" textLength="38.206" lengthAdjust="spacingAndGlyphs">5075</text>
<text x="55.69" y="183.81" text-anchor="end" font-family="'Liberation Sans', sans-serif" font-weight="bold" font-size="14.600" textLength="38.206" lengthAdjust="spacingAndGlyphs">5100</text>
<text x="55.69" y="221.14" text-anchor="end" font-family="'Liberation Sans', sans-serif" font-weight="bold" font-size="14.600" textLength="38.206" lengthAdjust="spacingAndGlyphs">5125</text>
<text x="55.69" y="258.48" text-anchor="end" font-family="'Liberation Sans', sans-serif" font-weight="bold" font-size="14.600" textLength="38.206" lengthAdjust="spacingAndGlyphs">5150</text>
<text x="55.69" y="295.81" text-anchor="end" font-family="'Liberation Sans', sans-serif" font-weight="bold" font-size="14.600" textLength="38.206" lengthAdjust="spacingAndGlyphs">5175</text>
<text x="55.69" y="333.14" text-anchor="end" font-family="'Liberation Sans', sans-serif" font-weight="bold" font-size="14.600" textLength="38.206" lengthAdjust="spacingAndGlyphs">5200</text>
<text x="55.69" y="370.48" text-anchor="end" font-family="'Liberation Sans', sans-serif" font-weight="bold" font-size="14.600" textLength="38.206" lengthAdjust="spacingAndGlyphs">5225</text>
<text x="55.69" y="407.81" text-anchor="end" font-family="'Liberation Sans', sans-serif" font-weight="bold" font-size="14.600" textLength="38.206" lengthAdjust="spacingAndGlyphs">5250</text>
<text x="510.61" y="115.75" text-anchor="end" font-family="'Liberation Sans', sans-serif" font-weight="bold" font-size="15.500" textLength="41.017" lengthAdjust="spacingAndGlyphs">5050</text>
<text x="510.61" y="188.50" text-anchor="end" font-family="'Liberation Sans', sans-serif" font-weight="bold" font-size="15.500" textLength="41.017" lengthAdjust="spacingAndGlyphs">5100</text>
<text x="510.61" y="261.25" text-anchor="end" font-family="'Liberation Sans', sans-serif" font-weight="bold" font-size="15.500" textLength="41.017" lengthAdjust="spacingAndGlyphs">5150</text>
<text x="510.61" y="334.00" text-anchor="end" font-family="'Liberation Sans', sans-serif" font-weight="bold" font-size="15.500" textLength="41.017" lengthAdjust="spacingAndGlyphs">5200</text>
<text x="510.61" y="406.75" text-anchor="end" font-family="'Liberation Sans', sans-serif" font-weight="bold" font-size="15.500" textLength="41.017" lengthAdjust="spacingAndGlyphs">5250</text>
<rect x="255.3" y="73.3" width="138.40" height="44.90" rx="2.5" ry="2.5" fill="#fff" fill-opacity="0.8" stroke="#cccccc" stroke-opacity="0.8" stroke-width="1"/><path d="M260.3,84.9 H289.7" stroke="#1f77b4" stroke-width="2.0"/><path d="M260.3,105.1 H289.7" stroke="#ff7f0e" stroke-width="2.0"/>
<rect x="531.4" y="66.8" width="134.10" height="47.50" rx="2.5" ry="2.5" fill="#fff" fill-opacity="0.8" stroke="#cccccc" stroke-opacity="0.8" stroke-width="1"/><path d="M536.1,78.7 H567.3" stroke="#000000" stroke-width="2.0"/><path d="M536.1,100.5 H567.3" stroke="#00ff00" stroke-width="2.0"/>
<text x="300.166" y="89.700" font-family="'Liberation Sans', sans-serif" font-weight="bold" font-style="normal" font-size="14.700" textLength="88.416" lengthAdjust="spacingAndGlyphs" fill="#000">with spikes</text>
<text x="299.664" y="110.000" font-family="'Liberation Sans', sans-serif" font-weight="bold" font-style="normal" font-size="14.700" textLength="71.026" lengthAdjust="spacingAndGlyphs" fill="#000">despiked</text>
<text x="578.731" y="83.900" font-family="'Liberation Sans', sans-serif" font-weight="bold" font-style="normal" font-size="15.200" textLength="36.068" lengthAdjust="spacingAndGlyphs" fill="#000">Real</text>
<text x="578.763" y="105.400" font-family="'Liberation Sans', sans-serif" font-weight="bold" font-style="normal" font-size="15.200" textLength="80.628" lengthAdjust="spacingAndGlyphs" fill="#000">Predicted</text>
</svg></body></html>
